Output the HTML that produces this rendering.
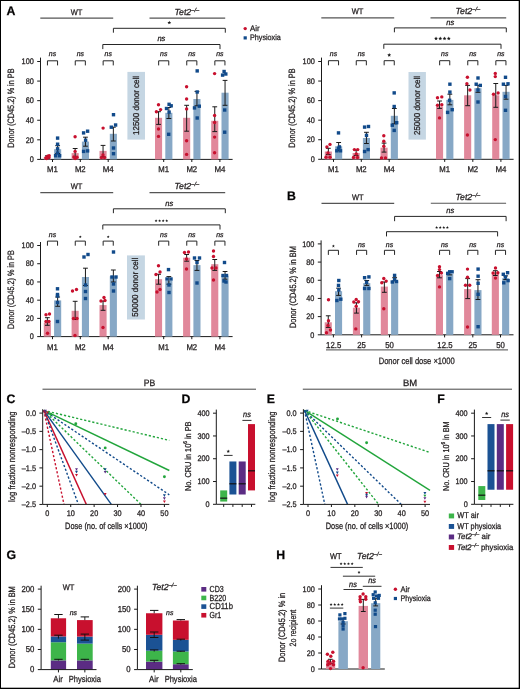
<!DOCTYPE html>
<html><head><meta charset="utf-8"><style>
html,body{margin:0;padding:0;background:#fff;}
body{width:520px;height:689px;overflow:hidden;}
svg{display:block;will-change:transform;font-family:"Liberation Sans", sans-serif;}
text{stroke:#231f20;stroke-width:0.28px;text-rendering:geometricPrecision;}
</style></head><body>
<svg width="520" height="689" viewBox="0 0 520 689" font-family="Liberation Sans, sans-serif" fill="#231f20">
<rect x="0" y="0" width="520" height="689" fill="#fff"/>
<rect x="0" y="0" width="520" height="1" fill="#000"/>
<rect x="0" y="0" width="1" height="689" fill="#000"/>
<rect x="518.7" y="0" width="1.3" height="689" fill="#000"/>
<rect x="0" y="687.7" width="520" height="1.3" fill="#000"/>
<text x="6.6" y="14.8" font-size="12.31" font-weight="bold" fill="#000">A</text>
<text x="287" y="200" font-size="12.31" font-weight="bold" fill="#000">B</text>
<text x="6.4" y="402.7" font-size="12.31" font-weight="bold" fill="#000">C</text>
<text x="181.6" y="403.3" font-size="12.31" font-weight="bold" fill="#000">D</text>
<text x="266.8" y="403.3" font-size="12.31" font-weight="bold" fill="#000">E</text>
<text x="437.2" y="403.2" font-size="12.31" font-weight="bold" fill="#000">F</text>
<text x="6.5" y="559" font-size="12.31" font-weight="bold" fill="#000">G</text>
<text x="276.2" y="558.9" font-size="12.31" font-weight="bold" fill="#000">H</text>
<text x="76.5" y="15" font-size="8.13" text-anchor="middle" textLength="11.6" lengthAdjust="spacingAndGlyphs">WT</text>
<line x1="40.3" y1="18.1" x2="113.2" y2="18.1" stroke="#555" stroke-width="1.1"/>
<text x="174.5" y="15" font-size="8.77" font-style="italic">Tet2<tspan font-size="5.79" dy="-3.16">&#8211;/&#8211;</tspan></text>
<line x1="149.5" y1="18.1" x2="225.2" y2="18.1" stroke="#555" stroke-width="1.1"/>
<path d="M113.4 32.7V28.3H225.3V32.7" stroke="#262626" stroke-width="1" fill="none"/>
<polygon points="169.3,20.7 169.83,21.97 171.2,22.08 170.16,22.98 170.48,24.32 169.3,23.6 168.12,24.32 168.44,22.98 167.4,22.08 168.77,21.97" fill="#1a1a1a"/>
<path d="M102.8 49.1V44.5H220V49.1" stroke="#262626" stroke-width="1" fill="none"/>
<text x="161.4" y="40.7" font-size="7.81" text-anchor="middle" font-style="italic" textLength="8" lengthAdjust="spacingAndGlyphs">ns</text>
<line x1="40.5" y1="57.6" x2="40.5" y2="159.4" stroke="#1a1a1a" stroke-width="1"/>
<line x1="37.2" y1="159.4" x2="40.5" y2="159.4" stroke="#1a1a1a" stroke-width="1"/>
<text x="33.8" y="162.15" font-size="8.13" text-anchor="end" textLength="4.07" lengthAdjust="spacingAndGlyphs">0</text>
<line x1="37.2" y1="139.82" x2="40.5" y2="139.82" stroke="#1a1a1a" stroke-width="1"/>
<text x="33.8" y="142.57" font-size="8.13" text-anchor="end" textLength="8.14" lengthAdjust="spacingAndGlyphs">20</text>
<line x1="37.2" y1="120.24" x2="40.5" y2="120.24" stroke="#1a1a1a" stroke-width="1"/>
<text x="33.8" y="122.99" font-size="8.13" text-anchor="end" textLength="8.14" lengthAdjust="spacingAndGlyphs">40</text>
<line x1="37.2" y1="100.66" x2="40.5" y2="100.66" stroke="#1a1a1a" stroke-width="1"/>
<text x="33.8" y="103.41" font-size="8.13" text-anchor="end" textLength="8.14" lengthAdjust="spacingAndGlyphs">60</text>
<line x1="37.2" y1="81.08" x2="40.5" y2="81.08" stroke="#1a1a1a" stroke-width="1"/>
<text x="33.8" y="83.83" font-size="8.13" text-anchor="end" textLength="8.14" lengthAdjust="spacingAndGlyphs">80</text>
<line x1="37.2" y1="61.5" x2="40.5" y2="61.5" stroke="#1a1a1a" stroke-width="1"/>
<text x="33.8" y="64.25" font-size="8.13" text-anchor="end" textLength="12.21" lengthAdjust="spacingAndGlyphs">100</text>
<line x1="40.5" y1="159.4" x2="232.6" y2="159.4" stroke="#1a1a1a" stroke-width="1"/>
<line x1="52.5" y1="159.4" x2="52.5" y2="162" stroke="#1a1a1a" stroke-width="1"/>
<line x1="80.3" y1="159.4" x2="80.3" y2="162" stroke="#1a1a1a" stroke-width="1"/>
<line x1="108.2" y1="159.4" x2="108.2" y2="162" stroke="#1a1a1a" stroke-width="1"/>
<line x1="163.7" y1="159.4" x2="163.7" y2="162" stroke="#1a1a1a" stroke-width="1"/>
<line x1="191.8" y1="159.4" x2="191.8" y2="162" stroke="#1a1a1a" stroke-width="1"/>
<line x1="219.9" y1="159.4" x2="219.9" y2="162" stroke="#1a1a1a" stroke-width="1"/>
<text x="52.5" y="172.2" font-size="8.35" text-anchor="middle" textLength="10.8" lengthAdjust="spacingAndGlyphs">M1</text>
<text x="80.3" y="172.2" font-size="8.35" text-anchor="middle" textLength="10.8" lengthAdjust="spacingAndGlyphs">M2</text>
<text x="108.2" y="172.2" font-size="8.35" text-anchor="middle" textLength="11" lengthAdjust="spacingAndGlyphs">M4</text>
<text x="163.7" y="172.2" font-size="8.35" text-anchor="middle" textLength="10.8" lengthAdjust="spacingAndGlyphs">M1</text>
<text x="191.8" y="172.2" font-size="8.35" text-anchor="middle" textLength="10.8" lengthAdjust="spacingAndGlyphs">M2</text>
<text x="219.9" y="172.2" font-size="8.35" text-anchor="middle" textLength="11" lengthAdjust="spacingAndGlyphs">M4</text>
<path d="M47.45 65.4V60.8H57.55V65.4" stroke="#262626" stroke-width="1" fill="none"/>
<text x="52.5" y="56.3" font-size="7.06" text-anchor="middle" font-style="italic" textLength="7.3" lengthAdjust="spacingAndGlyphs">ns</text>
<path d="M75.25 65.4V60.8H85.35V65.4" stroke="#262626" stroke-width="1" fill="none"/>
<text x="80.3" y="56.3" font-size="7.06" text-anchor="middle" font-style="italic" textLength="7.3" lengthAdjust="spacingAndGlyphs">ns</text>
<path d="M103.15 65.4V60.8H113.25V65.4" stroke="#262626" stroke-width="1" fill="none"/>
<text x="108.2" y="56.3" font-size="7.06" text-anchor="middle" font-style="italic" textLength="7.3" lengthAdjust="spacingAndGlyphs">ns</text>
<path d="M158.65 65.4V60.8H168.75V65.4" stroke="#262626" stroke-width="1" fill="none"/>
<text x="163.7" y="56.3" font-size="7.06" text-anchor="middle" font-style="italic" textLength="7.3" lengthAdjust="spacingAndGlyphs">ns</text>
<path d="M186.75 65.4V60.8H196.85V65.4" stroke="#262626" stroke-width="1" fill="none"/>
<text x="191.8" y="56.3" font-size="7.06" text-anchor="middle" font-style="italic" textLength="7.3" lengthAdjust="spacingAndGlyphs">ns</text>
<path d="M214.85 65.4V60.8H224.95V65.4" stroke="#262626" stroke-width="1" fill="none"/>
<text x="219.9" y="56.3" font-size="7.06" text-anchor="middle" font-style="italic" textLength="7.3" lengthAdjust="spacingAndGlyphs">ns</text>
<rect x="127.4" y="71.9" width="17.6" height="67.7" fill="#c5d6e3"/>
<text x="138.6" y="105.45" font-size="8.56" text-anchor="middle" textLength="59" lengthAdjust="spacingAndGlyphs" transform="rotate(-90 138.6 105.45)">12500 donor cell</text>
<text x="14.5" y="108.1" font-size="9.2" text-anchor="middle" textLength="79.2" lengthAdjust="spacingAndGlyphs" transform="rotate(-90 14.5 108.1)">Donor (CD45.2) % in PB</text>
<rect x="43.8" y="157" width="7.1" height="2.4" fill="#e1889b"/>
<rect x="54.1" y="149.2" width="7.1" height="10.2" fill="#87a8c6"/>
<rect x="71.6" y="153.1" width="7.1" height="6.3" fill="#e1889b"/>
<rect x="81.9" y="141.6" width="7.1" height="17.8" fill="#87a8c6"/>
<rect x="99.5" y="150.9" width="7.1" height="8.5" fill="#e1889b"/>
<rect x="109.8" y="133.8" width="7.1" height="25.6" fill="#87a8c6"/>
<rect x="155" y="117.8" width="7.1" height="41.6" fill="#e1889b"/>
<rect x="165.3" y="112.8" width="7.1" height="46.6" fill="#87a8c6"/>
<rect x="183.1" y="117.8" width="7.1" height="41.6" fill="#e1889b"/>
<rect x="193.4" y="99" width="7.1" height="60.4" fill="#87a8c6"/>
<rect x="211.2" y="120.8" width="7.1" height="38.6" fill="#e1889b"/>
<rect x="221.5" y="92.7" width="7.1" height="66.7" fill="#87a8c6"/>
<line x1="47.35" y1="155.8" x2="47.35" y2="158.6" stroke="#1a1a1a" stroke-width="1"/>
<line x1="44.95" y1="155.8" x2="49.75" y2="155.8" stroke="#1a1a1a" stroke-width="1"/>
<line x1="44.95" y1="158.6" x2="49.75" y2="158.6" stroke="#1a1a1a" stroke-width="1"/>
<line x1="57.65" y1="145.7" x2="57.65" y2="153.5" stroke="#1a1a1a" stroke-width="1"/>
<line x1="55.25" y1="145.7" x2="60.05" y2="145.7" stroke="#1a1a1a" stroke-width="1"/>
<line x1="55.25" y1="153.5" x2="60.05" y2="153.5" stroke="#1a1a1a" stroke-width="1"/>
<circle cx="46" cy="157.8" r="1.7" fill="#c8102e"/>
<circle cx="47.6" cy="156.3" r="1.7" fill="#c8102e"/>
<circle cx="49.2" cy="155.7" r="1.7" fill="#c8102e"/>
<circle cx="46.6" cy="158.5" r="1.7" fill="#c8102e"/>
<circle cx="48.6" cy="157.2" r="1.7" fill="#c8102e"/>
<rect x="55.9" y="136.4" width="3.4" height="3.4" fill="#114a8a"/>
<rect x="55.9" y="142.5" width="3.4" height="3.4" fill="#114a8a"/>
<rect x="55.9" y="147.1" width="3.4" height="3.4" fill="#114a8a"/>
<rect x="53.9" y="154" width="3.4" height="3.4" fill="#114a8a"/>
<rect x="57.9" y="154" width="3.4" height="3.4" fill="#114a8a"/>
<rect x="55.9" y="151.3" width="3.4" height="3.4" fill="#114a8a"/>
<line x1="75.15" y1="148.5" x2="75.15" y2="157.2" stroke="#1a1a1a" stroke-width="1"/>
<line x1="72.75" y1="148.5" x2="77.55" y2="148.5" stroke="#1a1a1a" stroke-width="1"/>
<line x1="72.75" y1="157.2" x2="77.55" y2="157.2" stroke="#1a1a1a" stroke-width="1"/>
<line x1="85.45" y1="137.2" x2="85.45" y2="146.2" stroke="#1a1a1a" stroke-width="1"/>
<line x1="83.05" y1="137.2" x2="87.85" y2="137.2" stroke="#1a1a1a" stroke-width="1"/>
<line x1="83.05" y1="146.2" x2="87.85" y2="146.2" stroke="#1a1a1a" stroke-width="1"/>
<circle cx="75.1" cy="136.7" r="1.7" fill="#c8102e"/>
<circle cx="75.1" cy="151.4" r="1.7" fill="#c8102e"/>
<circle cx="74" cy="157" r="1.7" fill="#c8102e"/>
<circle cx="77" cy="157.2" r="1.7" fill="#c8102e"/>
<circle cx="75.2" cy="158.6" r="1.7" fill="#c8102e"/>
<rect x="81.9" y="131.2" width="3.4" height="3.4" fill="#114a8a"/>
<rect x="85.9" y="129.5" width="3.4" height="3.4" fill="#114a8a"/>
<rect x="83.9" y="138.5" width="3.4" height="3.4" fill="#114a8a"/>
<rect x="81.9" y="149.7" width="3.4" height="3.4" fill="#114a8a"/>
<rect x="85.9" y="149.2" width="3.4" height="3.4" fill="#114a8a"/>
<line x1="103.05" y1="145.4" x2="103.05" y2="156.6" stroke="#1a1a1a" stroke-width="1"/>
<line x1="100.65" y1="145.4" x2="105.45" y2="145.4" stroke="#1a1a1a" stroke-width="1"/>
<line x1="100.65" y1="156.6" x2="105.45" y2="156.6" stroke="#1a1a1a" stroke-width="1"/>
<line x1="113.35" y1="127.2" x2="113.35" y2="141" stroke="#1a1a1a" stroke-width="1"/>
<line x1="110.95" y1="127.2" x2="115.75" y2="127.2" stroke="#1a1a1a" stroke-width="1"/>
<line x1="110.95" y1="141" x2="115.75" y2="141" stroke="#1a1a1a" stroke-width="1"/>
<circle cx="103.1" cy="128.1" r="1.7" fill="#c8102e"/>
<circle cx="103" cy="155" r="1.7" fill="#c8102e"/>
<circle cx="101.5" cy="157.6" r="1.7" fill="#c8102e"/>
<circle cx="104.5" cy="157.6" r="1.7" fill="#c8102e"/>
<rect x="111.8" y="113" width="3.4" height="3.4" fill="#114a8a"/>
<rect x="109.6" y="125.5" width="3.4" height="3.4" fill="#114a8a"/>
<rect x="113.9" y="123.3" width="3.4" height="3.4" fill="#114a8a"/>
<rect x="111.8" y="146.3" width="3.4" height="3.4" fill="#114a8a"/>
<rect x="111.8" y="152" width="3.4" height="3.4" fill="#114a8a"/>
<line x1="158.55" y1="111.7" x2="158.55" y2="124.4" stroke="#1a1a1a" stroke-width="1"/>
<line x1="156.15" y1="111.7" x2="160.95" y2="111.7" stroke="#1a1a1a" stroke-width="1"/>
<line x1="156.15" y1="124.4" x2="160.95" y2="124.4" stroke="#1a1a1a" stroke-width="1"/>
<line x1="168.85" y1="107.5" x2="168.85" y2="118.5" stroke="#1a1a1a" stroke-width="1"/>
<line x1="166.45" y1="107.5" x2="171.25" y2="107.5" stroke="#1a1a1a" stroke-width="1"/>
<line x1="166.45" y1="118.5" x2="171.25" y2="118.5" stroke="#1a1a1a" stroke-width="1"/>
<circle cx="158.5" cy="104.7" r="1.7" fill="#c8102e"/>
<circle cx="156.4" cy="111.7" r="1.7" fill="#c8102e"/>
<circle cx="160.6" cy="109.6" r="1.7" fill="#c8102e"/>
<circle cx="158.5" cy="129" r="1.7" fill="#c8102e"/>
<circle cx="158.5" cy="136.4" r="1.7" fill="#c8102e"/>
<rect x="164.8" y="106.8" width="3.4" height="3.4" fill="#114a8a"/>
<rect x="167.4" y="102.6" width="3.4" height="3.4" fill="#114a8a"/>
<rect x="169.5" y="104.1" width="3.4" height="3.4" fill="#114a8a"/>
<rect x="167.4" y="110.4" width="3.4" height="3.4" fill="#114a8a"/>
<rect x="167" y="132.6" width="3.4" height="3.4" fill="#114a8a"/>
<line x1="186.65" y1="105.3" x2="186.65" y2="131.2" stroke="#1a1a1a" stroke-width="1"/>
<line x1="184.25" y1="105.3" x2="189.05" y2="105.3" stroke="#1a1a1a" stroke-width="1"/>
<line x1="184.25" y1="131.2" x2="189.05" y2="131.2" stroke="#1a1a1a" stroke-width="1"/>
<line x1="196.95" y1="91.4" x2="196.95" y2="105.8" stroke="#1a1a1a" stroke-width="1"/>
<line x1="194.55" y1="91.4" x2="199.35" y2="91.4" stroke="#1a1a1a" stroke-width="1"/>
<line x1="194.55" y1="105.8" x2="199.35" y2="105.8" stroke="#1a1a1a" stroke-width="1"/>
<circle cx="186.6" cy="86.7" r="1.7" fill="#c8102e"/>
<circle cx="186.6" cy="99" r="1.7" fill="#c8102e"/>
<circle cx="186.6" cy="108.9" r="1.7" fill="#c8102e"/>
<circle cx="186.6" cy="140.7" r="1.7" fill="#c8102e"/>
<circle cx="186.6" cy="154.4" r="1.7" fill="#c8102e"/>
<rect x="195.5" y="69.2" width="3.4" height="3.4" fill="#114a8a"/>
<rect x="195.5" y="90.3" width="3.4" height="3.4" fill="#114a8a"/>
<rect x="192.8" y="106.2" width="3.4" height="3.4" fill="#114a8a"/>
<rect x="197.6" y="104.5" width="3.4" height="3.4" fill="#114a8a"/>
<rect x="195.5" y="116.3" width="3.4" height="3.4" fill="#114a8a"/>
<line x1="214.75" y1="106.8" x2="214.75" y2="131.6" stroke="#1a1a1a" stroke-width="1"/>
<line x1="212.35" y1="106.8" x2="217.15" y2="106.8" stroke="#1a1a1a" stroke-width="1"/>
<line x1="212.35" y1="131.6" x2="217.15" y2="131.6" stroke="#1a1a1a" stroke-width="1"/>
<line x1="225.05" y1="80.4" x2="225.05" y2="105.3" stroke="#1a1a1a" stroke-width="1"/>
<line x1="222.65" y1="80.4" x2="227.45" y2="80.4" stroke="#1a1a1a" stroke-width="1"/>
<line x1="222.65" y1="105.3" x2="227.45" y2="105.3" stroke="#1a1a1a" stroke-width="1"/>
<circle cx="214.6" cy="73.6" r="1.7" fill="#c8102e"/>
<circle cx="214.6" cy="115.5" r="1.7" fill="#c8102e"/>
<circle cx="214.6" cy="122.5" r="1.7" fill="#c8102e"/>
<circle cx="214.6" cy="137.1" r="1.7" fill="#c8102e"/>
<circle cx="214.6" cy="152.7" r="1.7" fill="#c8102e"/>
<rect x="220.9" y="73.4" width="3.4" height="3.4" fill="#114a8a"/>
<rect x="222.4" y="69.8" width="3.4" height="3.4" fill="#114a8a"/>
<rect x="224.1" y="72.3" width="3.4" height="3.4" fill="#114a8a"/>
<rect x="223" y="108.3" width="3.4" height="3.4" fill="#114a8a"/>
<rect x="223" y="130.5" width="3.4" height="3.4" fill="#114a8a"/>
<text x="357.5" y="14.4" font-size="8.13" text-anchor="middle" textLength="11.6" lengthAdjust="spacingAndGlyphs">WT</text>
<line x1="321.3" y1="17.9" x2="394.2" y2="17.9" stroke="#555" stroke-width="1.1"/>
<text x="455.5" y="14.4" font-size="8.77" font-style="italic">Tet2<tspan font-size="5.79" dy="-3.16">&#8211;/&#8211;</tspan></text>
<line x1="430.5" y1="17.9" x2="506.2" y2="17.9" stroke="#555" stroke-width="1.1"/>
<path d="M394.4 32.3V27.9H506.3V32.3" stroke="#262626" stroke-width="1" fill="none"/>
<text x="450.3" y="24.9" font-size="7.81" text-anchor="middle" font-style="italic" textLength="8" lengthAdjust="spacingAndGlyphs">ns</text>
<path d="M383.8 48.8V44.2H501V48.8" stroke="#262626" stroke-width="1" fill="none"/>
<polygon points="436.02,36.6 436.55,37.87 437.93,37.98 436.88,38.88 437.2,40.22 436.02,39.5 434.85,40.22 435.17,38.88 434.12,37.98 435.5,37.87" fill="#1a1a1a"/>
<polygon points="440.27,36.6 440.8,37.87 442.18,37.98 441.13,38.88 441.45,40.22 440.27,39.5 439.1,40.22 439.42,38.88 438.37,37.98 439.75,37.87" fill="#1a1a1a"/>
<polygon points="444.52,36.6 445.05,37.87 446.43,37.98 445.38,38.88 445.7,40.22 444.52,39.5 443.35,40.22 443.67,38.88 442.62,37.98 444,37.87" fill="#1a1a1a"/>
<polygon points="448.77,36.6 449.3,37.87 450.68,37.98 449.63,38.88 449.95,40.22 448.77,39.5 447.6,40.22 447.92,38.88 446.87,37.98 448.25,37.87" fill="#1a1a1a"/>
<line x1="321.5" y1="57.6" x2="321.5" y2="159.3" stroke="#1a1a1a" stroke-width="1"/>
<line x1="318.2" y1="159.3" x2="321.5" y2="159.3" stroke="#1a1a1a" stroke-width="1"/>
<text x="314.8" y="162.05" font-size="8.13" text-anchor="end" textLength="4.07" lengthAdjust="spacingAndGlyphs">0</text>
<line x1="318.2" y1="139.74" x2="321.5" y2="139.74" stroke="#1a1a1a" stroke-width="1"/>
<text x="314.8" y="142.49" font-size="8.13" text-anchor="end" textLength="8.14" lengthAdjust="spacingAndGlyphs">20</text>
<line x1="318.2" y1="120.18" x2="321.5" y2="120.18" stroke="#1a1a1a" stroke-width="1"/>
<text x="314.8" y="122.93" font-size="8.13" text-anchor="end" textLength="8.14" lengthAdjust="spacingAndGlyphs">40</text>
<line x1="318.2" y1="100.62" x2="321.5" y2="100.62" stroke="#1a1a1a" stroke-width="1"/>
<text x="314.8" y="103.37" font-size="8.13" text-anchor="end" textLength="8.14" lengthAdjust="spacingAndGlyphs">60</text>
<line x1="318.2" y1="81.06" x2="321.5" y2="81.06" stroke="#1a1a1a" stroke-width="1"/>
<text x="314.8" y="83.81" font-size="8.13" text-anchor="end" textLength="8.14" lengthAdjust="spacingAndGlyphs">80</text>
<line x1="318.2" y1="61.5" x2="321.5" y2="61.5" stroke="#1a1a1a" stroke-width="1"/>
<text x="314.8" y="64.25" font-size="8.13" text-anchor="end" textLength="12.21" lengthAdjust="spacingAndGlyphs">100</text>
<line x1="321.5" y1="159.3" x2="513.6" y2="159.3" stroke="#1a1a1a" stroke-width="1"/>
<line x1="333.5" y1="159.3" x2="333.5" y2="161.9" stroke="#1a1a1a" stroke-width="1"/>
<line x1="361.3" y1="159.3" x2="361.3" y2="161.9" stroke="#1a1a1a" stroke-width="1"/>
<line x1="389.2" y1="159.3" x2="389.2" y2="161.9" stroke="#1a1a1a" stroke-width="1"/>
<line x1="444.7" y1="159.3" x2="444.7" y2="161.9" stroke="#1a1a1a" stroke-width="1"/>
<line x1="472.8" y1="159.3" x2="472.8" y2="161.9" stroke="#1a1a1a" stroke-width="1"/>
<line x1="500.9" y1="159.3" x2="500.9" y2="161.9" stroke="#1a1a1a" stroke-width="1"/>
<text x="333.5" y="172" font-size="8.35" text-anchor="middle" textLength="10.8" lengthAdjust="spacingAndGlyphs">M1</text>
<text x="361.3" y="172" font-size="8.35" text-anchor="middle" textLength="10.8" lengthAdjust="spacingAndGlyphs">M2</text>
<text x="389.2" y="172" font-size="8.35" text-anchor="middle" textLength="11" lengthAdjust="spacingAndGlyphs">M4</text>
<text x="444.7" y="172" font-size="8.35" text-anchor="middle" textLength="10.8" lengthAdjust="spacingAndGlyphs">M1</text>
<text x="472.8" y="172" font-size="8.35" text-anchor="middle" textLength="10.8" lengthAdjust="spacingAndGlyphs">M2</text>
<text x="500.9" y="172" font-size="8.35" text-anchor="middle" textLength="11" lengthAdjust="spacingAndGlyphs">M4</text>
<path d="M328.45 65.3V60.7H338.55V65.3" stroke="#262626" stroke-width="1" fill="none"/>
<text x="333.5" y="56.2" font-size="7.06" text-anchor="middle" font-style="italic" textLength="7.3" lengthAdjust="spacingAndGlyphs">ns</text>
<path d="M356.25 65.3V60.7H366.35V65.3" stroke="#262626" stroke-width="1" fill="none"/>
<text x="361.3" y="56.2" font-size="7.06" text-anchor="middle" font-style="italic" textLength="7.3" lengthAdjust="spacingAndGlyphs">ns</text>
<path d="M384.15 65.3V60.7H394.25V65.3" stroke="#262626" stroke-width="1" fill="none"/>
<polygon points="389.2,53.1 389.73,54.37 391.1,54.48 390.06,55.38 390.38,56.72 389.2,56 388.02,56.72 388.34,55.38 387.3,54.48 388.67,54.37" fill="#1a1a1a"/>
<path d="M439.65 65.3V60.7H449.75V65.3" stroke="#262626" stroke-width="1" fill="none"/>
<text x="444.7" y="56.2" font-size="7.06" text-anchor="middle" font-style="italic" textLength="7.3" lengthAdjust="spacingAndGlyphs">ns</text>
<path d="M467.75 65.3V60.7H477.85V65.3" stroke="#262626" stroke-width="1" fill="none"/>
<text x="472.8" y="56.2" font-size="7.06" text-anchor="middle" font-style="italic" textLength="7.3" lengthAdjust="spacingAndGlyphs">ns</text>
<path d="M495.85 65.3V60.7H505.95V65.3" stroke="#262626" stroke-width="1" fill="none"/>
<text x="500.9" y="56.2" font-size="7.06" text-anchor="middle" font-style="italic" textLength="7.3" lengthAdjust="spacingAndGlyphs">ns</text>
<rect x="408.5" y="72" width="17.4" height="67.6" fill="#c5d6e3"/>
<text x="419.6" y="105.5" font-size="8.56" text-anchor="middle" textLength="59" lengthAdjust="spacingAndGlyphs" transform="rotate(-90 419.6 105.5)">25000 donor cell</text>
<text x="295.5" y="108.1" font-size="9.2" text-anchor="middle" textLength="79.2" lengthAdjust="spacingAndGlyphs" transform="rotate(-90 295.5 108.1)">Donor (CD45.2) % in PB</text>
<rect x="324.8" y="151.5" width="7.1" height="7.8" fill="#e1889b"/>
<rect x="335.1" y="146.3" width="7.1" height="13" fill="#87a8c6"/>
<rect x="352.6" y="153" width="7.1" height="6.3" fill="#e1889b"/>
<rect x="362.9" y="138" width="7.1" height="21.3" fill="#87a8c6"/>
<rect x="380.5" y="147.7" width="7.1" height="11.6" fill="#e1889b"/>
<rect x="390.8" y="115.8" width="7.1" height="43.5" fill="#87a8c6"/>
<rect x="436" y="106.6" width="7.1" height="52.7" fill="#e1889b"/>
<rect x="446.3" y="99.9" width="7.1" height="59.4" fill="#87a8c6"/>
<rect x="464.1" y="95.3" width="7.1" height="64" fill="#e1889b"/>
<rect x="474.4" y="88.2" width="7.1" height="71.1" fill="#87a8c6"/>
<rect x="492.2" y="95.3" width="7.1" height="64" fill="#e1889b"/>
<rect x="502.5" y="91.8" width="7.1" height="67.5" fill="#87a8c6"/>
<line x1="328.35" y1="148.3" x2="328.35" y2="154.6" stroke="#1a1a1a" stroke-width="1"/>
<line x1="325.95" y1="148.3" x2="330.75" y2="148.3" stroke="#1a1a1a" stroke-width="1"/>
<line x1="325.95" y1="154.6" x2="330.75" y2="154.6" stroke="#1a1a1a" stroke-width="1"/>
<line x1="338.65" y1="142.5" x2="338.65" y2="150.8" stroke="#1a1a1a" stroke-width="1"/>
<line x1="336.25" y1="142.5" x2="341.05" y2="142.5" stroke="#1a1a1a" stroke-width="1"/>
<line x1="336.25" y1="150.8" x2="341.05" y2="150.8" stroke="#1a1a1a" stroke-width="1"/>
<circle cx="326.9" cy="146.9" r="1.7" fill="#c8102e"/>
<circle cx="330" cy="144.4" r="1.7" fill="#c8102e"/>
<circle cx="328" cy="153" r="1.7" fill="#c8102e"/>
<circle cx="326" cy="157.3" r="1.7" fill="#c8102e"/>
<circle cx="330" cy="157.3" r="1.7" fill="#c8102e"/>
<rect x="336.8" y="131.2" width="3.4" height="3.4" fill="#114a8a"/>
<rect x="337.7" y="145.2" width="3.4" height="3.4" fill="#114a8a"/>
<rect x="335.1" y="149.1" width="3.4" height="3.4" fill="#114a8a"/>
<rect x="338.8" y="149.1" width="3.4" height="3.4" fill="#114a8a"/>
<rect x="336.8" y="146.6" width="3.4" height="3.4" fill="#114a8a"/>
<line x1="356.15" y1="150.2" x2="356.15" y2="155.4" stroke="#1a1a1a" stroke-width="1"/>
<line x1="353.75" y1="150.2" x2="358.55" y2="150.2" stroke="#1a1a1a" stroke-width="1"/>
<line x1="353.75" y1="155.4" x2="358.55" y2="155.4" stroke="#1a1a1a" stroke-width="1"/>
<line x1="366.45" y1="132.3" x2="366.45" y2="143.5" stroke="#1a1a1a" stroke-width="1"/>
<line x1="364.05" y1="132.3" x2="368.85" y2="132.3" stroke="#1a1a1a" stroke-width="1"/>
<line x1="364.05" y1="143.5" x2="368.85" y2="143.5" stroke="#1a1a1a" stroke-width="1"/>
<circle cx="354.4" cy="149.6" r="1.7" fill="#c8102e"/>
<circle cx="357.7" cy="149.6" r="1.7" fill="#c8102e"/>
<circle cx="356.3" cy="154" r="1.7" fill="#c8102e"/>
<circle cx="353.5" cy="157.5" r="1.7" fill="#c8102e"/>
<circle cx="357.5" cy="157.5" r="1.7" fill="#c8102e"/>
<rect x="362.9" y="125.4" width="3.4" height="3.4" fill="#114a8a"/>
<rect x="366.8" y="124.8" width="3.4" height="3.4" fill="#114a8a"/>
<rect x="364.8" y="133.7" width="3.4" height="3.4" fill="#114a8a"/>
<rect x="362.9" y="149.8" width="3.4" height="3.4" fill="#114a8a"/>
<rect x="366.4" y="147.9" width="3.4" height="3.4" fill="#114a8a"/>
<line x1="384.05" y1="143.1" x2="384.05" y2="152.1" stroke="#1a1a1a" stroke-width="1"/>
<line x1="381.65" y1="143.1" x2="386.45" y2="143.1" stroke="#1a1a1a" stroke-width="1"/>
<line x1="381.65" y1="152.1" x2="386.45" y2="152.1" stroke="#1a1a1a" stroke-width="1"/>
<line x1="394.35" y1="108.5" x2="394.35" y2="123.8" stroke="#1a1a1a" stroke-width="1"/>
<line x1="391.95" y1="108.5" x2="396.75" y2="108.5" stroke="#1a1a1a" stroke-width="1"/>
<line x1="391.95" y1="123.8" x2="396.75" y2="123.8" stroke="#1a1a1a" stroke-width="1"/>
<circle cx="383.8" cy="135.8" r="1.7" fill="#c8102e"/>
<circle cx="383.8" cy="141.2" r="1.7" fill="#c8102e"/>
<circle cx="383.8" cy="146.3" r="1.7" fill="#c8102e"/>
<circle cx="381.5" cy="157.9" r="1.7" fill="#c8102e"/>
<circle cx="385.5" cy="157.9" r="1.7" fill="#c8102e"/>
<rect x="392.5" y="91.2" width="3.4" height="3.4" fill="#114a8a"/>
<rect x="392.5" y="104.8" width="3.4" height="3.4" fill="#114a8a"/>
<rect x="390.6" y="123.5" width="3.4" height="3.4" fill="#114a8a"/>
<rect x="395" y="121" width="3.4" height="3.4" fill="#114a8a"/>
<rect x="392.5" y="128.7" width="3.4" height="3.4" fill="#114a8a"/>
<line x1="439.55" y1="101" x2="439.55" y2="108.4" stroke="#1a1a1a" stroke-width="1"/>
<line x1="437.15" y1="101" x2="441.95" y2="101" stroke="#1a1a1a" stroke-width="1"/>
<line x1="437.15" y1="108.4" x2="441.95" y2="108.4" stroke="#1a1a1a" stroke-width="1"/>
<line x1="449.85" y1="94.2" x2="449.85" y2="104.8" stroke="#1a1a1a" stroke-width="1"/>
<line x1="447.45" y1="94.2" x2="452.25" y2="94.2" stroke="#1a1a1a" stroke-width="1"/>
<line x1="447.45" y1="104.8" x2="452.25" y2="104.8" stroke="#1a1a1a" stroke-width="1"/>
<circle cx="437.5" cy="97.8" r="1.7" fill="#c8102e"/>
<circle cx="441.8" cy="96.9" r="1.7" fill="#c8102e"/>
<circle cx="437.5" cy="105.2" r="1.7" fill="#c8102e"/>
<circle cx="441.8" cy="104.8" r="1.7" fill="#c8102e"/>
<circle cx="439.5" cy="117.9" r="1.7" fill="#c8102e"/>
<rect x="448.2" y="82.5" width="3.4" height="3.4" fill="#114a8a"/>
<rect x="448.2" y="90.4" width="3.4" height="3.4" fill="#114a8a"/>
<rect x="447.9" y="98.6" width="3.4" height="3.4" fill="#114a8a"/>
<rect x="445.9" y="110.7" width="3.4" height="3.4" fill="#114a8a"/>
<rect x="450.5" y="108" width="3.4" height="3.4" fill="#114a8a"/>
<line x1="467.65" y1="85.4" x2="467.65" y2="105.7" stroke="#1a1a1a" stroke-width="1"/>
<line x1="465.25" y1="85.4" x2="470.05" y2="85.4" stroke="#1a1a1a" stroke-width="1"/>
<line x1="465.25" y1="105.7" x2="470.05" y2="105.7" stroke="#1a1a1a" stroke-width="1"/>
<line x1="477.95" y1="85.4" x2="477.95" y2="92.3" stroke="#1a1a1a" stroke-width="1"/>
<line x1="475.55" y1="85.4" x2="480.35" y2="85.4" stroke="#1a1a1a" stroke-width="1"/>
<line x1="475.55" y1="92.3" x2="480.35" y2="92.3" stroke="#1a1a1a" stroke-width="1"/>
<circle cx="467.4" cy="77.3" r="1.7" fill="#c8102e"/>
<circle cx="466.9" cy="83.8" r="1.7" fill="#c8102e"/>
<circle cx="469.9" cy="90" r="1.7" fill="#c8102e"/>
<circle cx="467.4" cy="135" r="1.7" fill="#c8102e"/>
<rect x="476.3" y="76.3" width="3.4" height="3.4" fill="#114a8a"/>
<rect x="474.5" y="82.5" width="3.4" height="3.4" fill="#114a8a"/>
<rect x="478.6" y="83.7" width="3.4" height="3.4" fill="#114a8a"/>
<rect x="476.3" y="88.3" width="3.4" height="3.4" fill="#114a8a"/>
<rect x="476.3" y="100.3" width="3.4" height="3.4" fill="#114a8a"/>
<line x1="495.75" y1="83.5" x2="495.75" y2="107.3" stroke="#1a1a1a" stroke-width="1"/>
<line x1="493.35" y1="83.5" x2="498.15" y2="83.5" stroke="#1a1a1a" stroke-width="1"/>
<line x1="493.35" y1="107.3" x2="498.15" y2="107.3" stroke="#1a1a1a" stroke-width="1"/>
<line x1="506.05" y1="85.4" x2="506.05" y2="99.2" stroke="#1a1a1a" stroke-width="1"/>
<line x1="503.65" y1="85.4" x2="508.45" y2="85.4" stroke="#1a1a1a" stroke-width="1"/>
<line x1="503.65" y1="99.2" x2="508.45" y2="99.2" stroke="#1a1a1a" stroke-width="1"/>
<circle cx="495.3" cy="73.4" r="1.7" fill="#c8102e"/>
<circle cx="495.3" cy="76.6" r="1.7" fill="#c8102e"/>
<circle cx="493.5" cy="94.2" r="1.7" fill="#c8102e"/>
<circle cx="498.1" cy="93" r="1.7" fill="#c8102e"/>
<circle cx="495.3" cy="139.6" r="1.7" fill="#c8102e"/>
<rect x="503.8" y="75.6" width="3.4" height="3.4" fill="#114a8a"/>
<rect x="501.7" y="82.5" width="3.4" height="3.4" fill="#114a8a"/>
<rect x="506.3" y="82.1" width="3.4" height="3.4" fill="#114a8a"/>
<rect x="503.8" y="94.8" width="3.4" height="3.4" fill="#114a8a"/>
<rect x="503.8" y="108.6" width="3.4" height="3.4" fill="#114a8a"/>
<text x="76.5" y="189" font-size="8.13" text-anchor="middle" textLength="11.6" lengthAdjust="spacingAndGlyphs">WT</text>
<line x1="40.3" y1="192.6" x2="113.2" y2="192.6" stroke="#555" stroke-width="1.1"/>
<text x="174.5" y="189" font-size="8.77" font-style="italic">Tet2<tspan font-size="5.79" dy="-3.16">&#8211;/&#8211;</tspan></text>
<line x1="149.5" y1="192.6" x2="225.2" y2="192.6" stroke="#555" stroke-width="1.1"/>
<path d="M113.4 213.2V208.8H225.3V213.2" stroke="#262626" stroke-width="1" fill="none"/>
<text x="169.3" y="205.8" font-size="7.81" text-anchor="middle" font-style="italic" textLength="8" lengthAdjust="spacingAndGlyphs">ns</text>
<path d="M102.8 229.5V224.9H220V229.5" stroke="#262626" stroke-width="1" fill="none"/>
<polygon points="156.08,219.2 156.47,220.15 157.5,220.24 156.72,220.91 156.96,221.91 156.08,221.38 155.19,221.91 155.43,220.91 154.65,220.24 155.68,220.15" fill="#1a1a1a"/>
<polygon points="159.63,219.2 160.02,220.15 161.05,220.24 160.27,220.91 160.51,221.91 159.63,221.38 158.74,221.91 158.98,220.91 158.2,220.24 159.23,220.15" fill="#1a1a1a"/>
<polygon points="163.18,219.2 163.57,220.15 164.6,220.24 163.82,220.91 164.06,221.91 163.18,221.38 162.29,221.91 162.53,220.91 161.75,220.24 162.78,220.15" fill="#1a1a1a"/>
<polygon points="166.73,219.2 167.12,220.15 168.15,220.24 167.37,220.91 167.61,221.91 166.73,221.38 165.84,221.91 166.08,220.91 165.3,220.24 166.33,220.15" fill="#1a1a1a"/>
<line x1="40.5" y1="242" x2="40.5" y2="336.6" stroke="#1a1a1a" stroke-width="1"/>
<line x1="37.2" y1="336.6" x2="40.5" y2="336.6" stroke="#1a1a1a" stroke-width="1"/>
<text x="33.8" y="339.35" font-size="8.13" text-anchor="end" textLength="4.07" lengthAdjust="spacingAndGlyphs">0</text>
<line x1="37.2" y1="318.38" x2="40.5" y2="318.38" stroke="#1a1a1a" stroke-width="1"/>
<text x="33.8" y="321.13" font-size="8.13" text-anchor="end" textLength="8.14" lengthAdjust="spacingAndGlyphs">20</text>
<line x1="37.2" y1="300.16" x2="40.5" y2="300.16" stroke="#1a1a1a" stroke-width="1"/>
<text x="33.8" y="302.91" font-size="8.13" text-anchor="end" textLength="8.14" lengthAdjust="spacingAndGlyphs">40</text>
<line x1="37.2" y1="281.94" x2="40.5" y2="281.94" stroke="#1a1a1a" stroke-width="1"/>
<text x="33.8" y="284.69" font-size="8.13" text-anchor="end" textLength="8.14" lengthAdjust="spacingAndGlyphs">60</text>
<line x1="37.2" y1="263.72" x2="40.5" y2="263.72" stroke="#1a1a1a" stroke-width="1"/>
<text x="33.8" y="266.47" font-size="8.13" text-anchor="end" textLength="8.14" lengthAdjust="spacingAndGlyphs">80</text>
<line x1="37.2" y1="245.5" x2="40.5" y2="245.5" stroke="#1a1a1a" stroke-width="1"/>
<text x="33.8" y="248.25" font-size="8.13" text-anchor="end" textLength="12.21" lengthAdjust="spacingAndGlyphs">100</text>
<line x1="40.5" y1="336.6" x2="232.6" y2="336.6" stroke="#1a1a1a" stroke-width="1"/>
<line x1="52.5" y1="336.6" x2="52.5" y2="339.2" stroke="#1a1a1a" stroke-width="1"/>
<line x1="80.3" y1="336.6" x2="80.3" y2="339.2" stroke="#1a1a1a" stroke-width="1"/>
<line x1="108.2" y1="336.6" x2="108.2" y2="339.2" stroke="#1a1a1a" stroke-width="1"/>
<line x1="163.7" y1="336.6" x2="163.7" y2="339.2" stroke="#1a1a1a" stroke-width="1"/>
<line x1="191.8" y1="336.6" x2="191.8" y2="339.2" stroke="#1a1a1a" stroke-width="1"/>
<line x1="219.9" y1="336.6" x2="219.9" y2="339.2" stroke="#1a1a1a" stroke-width="1"/>
<text x="52.5" y="349.6" font-size="8.35" text-anchor="middle" textLength="10.8" lengthAdjust="spacingAndGlyphs">M1</text>
<text x="80.3" y="349.6" font-size="8.35" text-anchor="middle" textLength="10.8" lengthAdjust="spacingAndGlyphs">M2</text>
<text x="108.2" y="349.6" font-size="8.35" text-anchor="middle" textLength="11" lengthAdjust="spacingAndGlyphs">M4</text>
<text x="163.7" y="349.6" font-size="8.35" text-anchor="middle" textLength="10.8" lengthAdjust="spacingAndGlyphs">M1</text>
<text x="191.8" y="349.6" font-size="8.35" text-anchor="middle" textLength="10.8" lengthAdjust="spacingAndGlyphs">M2</text>
<text x="219.9" y="349.6" font-size="8.35" text-anchor="middle" textLength="11" lengthAdjust="spacingAndGlyphs">M4</text>
<path d="M47.45 245.7V241.1H57.55V245.7" stroke="#262626" stroke-width="1" fill="none"/>
<text x="52.5" y="236.6" font-size="7.06" text-anchor="middle" font-style="italic" textLength="7.3" lengthAdjust="spacingAndGlyphs">ns</text>
<path d="M75.25 245.7V241.1H85.35V245.7" stroke="#262626" stroke-width="1" fill="none"/>
<polygon points="80.3,235.4 80.7,236.35 81.73,236.44 80.94,237.11 81.18,238.11 80.3,237.58 79.42,238.11 79.66,237.11 78.87,236.44 79.9,236.35" fill="#1a1a1a"/>
<path d="M103.15 245.7V241.1H113.25V245.7" stroke="#262626" stroke-width="1" fill="none"/>
<polygon points="108.2,235.4 108.6,236.35 109.63,236.44 108.84,237.11 109.08,238.11 108.2,237.58 107.32,238.11 107.56,237.11 106.77,236.44 107.8,236.35" fill="#1a1a1a"/>
<path d="M158.65 245.7V241.1H168.75V245.7" stroke="#262626" stroke-width="1" fill="none"/>
<text x="163.7" y="236.6" font-size="7.06" text-anchor="middle" font-style="italic" textLength="7.3" lengthAdjust="spacingAndGlyphs">ns</text>
<path d="M186.75 245.7V241.1H196.85V245.7" stroke="#262626" stroke-width="1" fill="none"/>
<text x="191.8" y="236.6" font-size="7.06" text-anchor="middle" font-style="italic" textLength="7.3" lengthAdjust="spacingAndGlyphs">ns</text>
<path d="M214.85 245.7V241.1H224.95V245.7" stroke="#262626" stroke-width="1" fill="none"/>
<text x="219.9" y="236.6" font-size="7.06" text-anchor="middle" font-style="italic" textLength="7.3" lengthAdjust="spacingAndGlyphs">ns</text>
<rect x="127" y="255.4" width="17.9" height="64.1" fill="#c5d6e3"/>
<text x="138.35" y="287.15" font-size="8.56" text-anchor="middle" textLength="59" lengthAdjust="spacingAndGlyphs" transform="rotate(-90 138.35 287.15)">50000 donor cell</text>
<text x="14.5" y="289.6" font-size="9.2" text-anchor="middle" textLength="78.6" lengthAdjust="spacingAndGlyphs" transform="rotate(-90 14.5 289.6)">Donor (CD45.2) % in PB</text>
<rect x="43.8" y="322.8" width="7.1" height="13.8" fill="#e1889b"/>
<rect x="54.1" y="300.4" width="7.1" height="36.2" fill="#87a8c6"/>
<rect x="71.6" y="310.8" width="7.1" height="25.8" fill="#e1889b"/>
<rect x="81.9" y="277" width="7.1" height="59.6" fill="#87a8c6"/>
<rect x="99.5" y="305.1" width="7.1" height="31.5" fill="#e1889b"/>
<rect x="109.8" y="276.2" width="7.1" height="60.4" fill="#87a8c6"/>
<rect x="155" y="279.2" width="7.1" height="57.4" fill="#e1889b"/>
<rect x="165.3" y="280.8" width="7.1" height="55.8" fill="#87a8c6"/>
<rect x="183.1" y="257.7" width="7.1" height="78.9" fill="#e1889b"/>
<rect x="193.4" y="265.1" width="7.1" height="71.5" fill="#87a8c6"/>
<rect x="211.2" y="264.2" width="7.1" height="72.4" fill="#e1889b"/>
<rect x="221.5" y="275.7" width="7.1" height="60.9" fill="#87a8c6"/>
<line x1="47.35" y1="317.7" x2="47.35" y2="325.3" stroke="#1a1a1a" stroke-width="1"/>
<line x1="44.95" y1="317.7" x2="49.75" y2="317.7" stroke="#1a1a1a" stroke-width="1"/>
<line x1="44.95" y1="325.3" x2="49.75" y2="325.3" stroke="#1a1a1a" stroke-width="1"/>
<line x1="57.65" y1="297" x2="57.65" y2="306.3" stroke="#1a1a1a" stroke-width="1"/>
<line x1="55.25" y1="297" x2="60.05" y2="297" stroke="#1a1a1a" stroke-width="1"/>
<line x1="55.25" y1="306.3" x2="60.05" y2="306.3" stroke="#1a1a1a" stroke-width="1"/>
<circle cx="46" cy="314.8" r="1.7" fill="#c8102e"/>
<circle cx="49.5" cy="314" r="1.7" fill="#c8102e"/>
<circle cx="46" cy="321.5" r="1.7" fill="#c8102e"/>
<circle cx="49" cy="321.5" r="1.7" fill="#c8102e"/>
<circle cx="47.5" cy="333.3" r="1.7" fill="#c8102e"/>
<rect x="55.8" y="287.1" width="3.4" height="3.4" fill="#114a8a"/>
<rect x="55.8" y="292.8" width="3.4" height="3.4" fill="#114a8a"/>
<rect x="55.8" y="294.3" width="3.4" height="3.4" fill="#114a8a"/>
<rect x="55.8" y="300.8" width="3.4" height="3.4" fill="#114a8a"/>
<rect x="55.8" y="319.8" width="3.4" height="3.4" fill="#114a8a"/>
<line x1="75.15" y1="301.3" x2="75.15" y2="319.5" stroke="#1a1a1a" stroke-width="1"/>
<line x1="72.75" y1="301.3" x2="77.55" y2="301.3" stroke="#1a1a1a" stroke-width="1"/>
<line x1="72.75" y1="319.5" x2="77.55" y2="319.5" stroke="#1a1a1a" stroke-width="1"/>
<line x1="85.45" y1="268.2" x2="85.45" y2="285.5" stroke="#1a1a1a" stroke-width="1"/>
<line x1="83.05" y1="268.2" x2="87.85" y2="268.2" stroke="#1a1a1a" stroke-width="1"/>
<line x1="83.05" y1="285.5" x2="87.85" y2="285.5" stroke="#1a1a1a" stroke-width="1"/>
<circle cx="72.5" cy="291" r="1.7" fill="#c8102e"/>
<circle cx="76.5" cy="289.5" r="1.7" fill="#c8102e"/>
<circle cx="73.5" cy="318.5" r="1.7" fill="#c8102e"/>
<circle cx="77" cy="318.5" r="1.7" fill="#c8102e"/>
<circle cx="75" cy="335.5" r="1.7" fill="#c8102e"/>
<rect x="82.3" y="255.3" width="3.4" height="3.4" fill="#114a8a"/>
<rect x="86.3" y="252.8" width="3.4" height="3.4" fill="#114a8a"/>
<rect x="83.8" y="283.3" width="3.4" height="3.4" fill="#114a8a"/>
<rect x="83.8" y="289.8" width="3.4" height="3.4" fill="#114a8a"/>
<rect x="83.8" y="296.8" width="3.4" height="3.4" fill="#114a8a"/>
<line x1="103.05" y1="301.1" x2="103.05" y2="310.3" stroke="#1a1a1a" stroke-width="1"/>
<line x1="100.65" y1="301.1" x2="105.45" y2="301.1" stroke="#1a1a1a" stroke-width="1"/>
<line x1="100.65" y1="310.3" x2="105.45" y2="310.3" stroke="#1a1a1a" stroke-width="1"/>
<line x1="113.35" y1="270" x2="113.35" y2="282" stroke="#1a1a1a" stroke-width="1"/>
<line x1="110.95" y1="270" x2="115.75" y2="270" stroke="#1a1a1a" stroke-width="1"/>
<line x1="110.95" y1="282" x2="115.75" y2="282" stroke="#1a1a1a" stroke-width="1"/>
<circle cx="101" cy="301" r="1.7" fill="#c8102e"/>
<circle cx="104" cy="297.5" r="1.7" fill="#c8102e"/>
<circle cx="105" cy="300.5" r="1.7" fill="#c8102e"/>
<circle cx="103" cy="327.5" r="1.7" fill="#c8102e"/>
<rect x="111.8" y="250.3" width="3.4" height="3.4" fill="#114a8a"/>
<rect x="110.3" y="275.3" width="3.4" height="3.4" fill="#114a8a"/>
<rect x="114.3" y="275.3" width="3.4" height="3.4" fill="#114a8a"/>
<rect x="111.8" y="282.3" width="3.4" height="3.4" fill="#114a8a"/>
<rect x="111.8" y="289.3" width="3.4" height="3.4" fill="#114a8a"/>
<line x1="158.55" y1="274.3" x2="158.55" y2="284.2" stroke="#1a1a1a" stroke-width="1"/>
<line x1="156.15" y1="274.3" x2="160.95" y2="274.3" stroke="#1a1a1a" stroke-width="1"/>
<line x1="156.15" y1="284.2" x2="160.95" y2="284.2" stroke="#1a1a1a" stroke-width="1"/>
<line x1="168.85" y1="276.6" x2="168.85" y2="284.2" stroke="#1a1a1a" stroke-width="1"/>
<line x1="166.45" y1="276.6" x2="171.25" y2="276.6" stroke="#1a1a1a" stroke-width="1"/>
<line x1="166.45" y1="284.2" x2="171.25" y2="284.2" stroke="#1a1a1a" stroke-width="1"/>
<circle cx="158.5" cy="265.8" r="1.7" fill="#c8102e"/>
<circle cx="156" cy="274.5" r="1.7" fill="#c8102e"/>
<circle cx="160" cy="272" r="1.7" fill="#c8102e"/>
<circle cx="157" cy="292" r="1.7" fill="#c8102e"/>
<circle cx="160" cy="289.5" r="1.7" fill="#c8102e"/>
<rect x="166.8" y="267.9" width="3.4" height="3.4" fill="#114a8a"/>
<rect x="165.3" y="277.3" width="3.4" height="3.4" fill="#114a8a"/>
<rect x="169.3" y="277.3" width="3.4" height="3.4" fill="#114a8a"/>
<rect x="167.3" y="283.3" width="3.4" height="3.4" fill="#114a8a"/>
<rect x="167.3" y="290.8" width="3.4" height="3.4" fill="#114a8a"/>
<line x1="186.65" y1="254.5" x2="186.65" y2="261.2" stroke="#1a1a1a" stroke-width="1"/>
<line x1="184.25" y1="254.5" x2="189.05" y2="254.5" stroke="#1a1a1a" stroke-width="1"/>
<line x1="184.25" y1="261.2" x2="189.05" y2="261.2" stroke="#1a1a1a" stroke-width="1"/>
<line x1="196.95" y1="260.5" x2="196.95" y2="270.4" stroke="#1a1a1a" stroke-width="1"/>
<line x1="194.55" y1="260.5" x2="199.35" y2="260.5" stroke="#1a1a1a" stroke-width="1"/>
<line x1="194.55" y1="270.4" x2="199.35" y2="270.4" stroke="#1a1a1a" stroke-width="1"/>
<circle cx="184.5" cy="252.5" r="1.7" fill="#c8102e"/>
<circle cx="188.5" cy="252" r="1.7" fill="#c8102e"/>
<circle cx="186.5" cy="259" r="1.7" fill="#c8102e"/>
<circle cx="186.5" cy="269" r="1.7" fill="#c8102e"/>
<rect x="192.8" y="256.3" width="3.4" height="3.4" fill="#114a8a"/>
<rect x="197.8" y="256.3" width="3.4" height="3.4" fill="#114a8a"/>
<rect x="195.3" y="260.8" width="3.4" height="3.4" fill="#114a8a"/>
<rect x="195.3" y="281.3" width="3.4" height="3.4" fill="#114a8a"/>
<line x1="214.75" y1="259.5" x2="214.75" y2="270.4" stroke="#1a1a1a" stroke-width="1"/>
<line x1="212.35" y1="259.5" x2="217.15" y2="259.5" stroke="#1a1a1a" stroke-width="1"/>
<line x1="212.35" y1="270.4" x2="217.15" y2="270.4" stroke="#1a1a1a" stroke-width="1"/>
<line x1="225.05" y1="271.5" x2="225.05" y2="279.2" stroke="#1a1a1a" stroke-width="1"/>
<line x1="222.65" y1="271.5" x2="227.45" y2="271.5" stroke="#1a1a1a" stroke-width="1"/>
<line x1="222.65" y1="279.2" x2="227.45" y2="279.2" stroke="#1a1a1a" stroke-width="1"/>
<circle cx="213.5" cy="251" r="1.7" fill="#c8102e"/>
<circle cx="213.5" cy="256.5" r="1.7" fill="#c8102e"/>
<circle cx="212" cy="268" r="1.7" fill="#c8102e"/>
<circle cx="216" cy="268" r="1.7" fill="#c8102e"/>
<circle cx="213.5" cy="280" r="1.7" fill="#c8102e"/>
<rect x="222.8" y="260.8" width="3.4" height="3.4" fill="#114a8a"/>
<rect x="221.3" y="273.8" width="3.4" height="3.4" fill="#114a8a"/>
<rect x="224.8" y="273.8" width="3.4" height="3.4" fill="#114a8a"/>
<rect x="222.3" y="279.3" width="3.4" height="3.4" fill="#114a8a"/>
<rect x="224.3" y="280.3" width="3.4" height="3.4" fill="#114a8a"/>
<circle cx="245.2" cy="28.6" r="1.7" fill="#c8102e"/>
<text x="250" y="31.2" font-size="8.03" textLength="9.6" lengthAdjust="spacingAndGlyphs">Air</text>
<rect x="243.6" y="36.3" width="3.2" height="3.2" fill="#114a8a"/>
<text x="250" y="40.2" font-size="8.03" textLength="30.8" lengthAdjust="spacingAndGlyphs">Physioxia</text>
<text x="357.8" y="199.8" font-size="8.13" text-anchor="middle" textLength="11.6" lengthAdjust="spacingAndGlyphs">WT</text>
<line x1="321.5" y1="203.4" x2="394.2" y2="203.4" stroke="#555" stroke-width="1.1"/>
<text x="455.5" y="200.2" font-size="8.77" font-style="italic">Tet2<tspan font-size="5.79" dy="-3.16">&#8211;/&#8211;</tspan></text>
<line x1="430.8" y1="203.2" x2="506.1" y2="203.2" stroke="#555" stroke-width="1.1"/>
<path d="M394.6 221.2V216.4H506.1V221.2" stroke="#262626" stroke-width="1" fill="none"/>
<text x="450.2" y="213.4" font-size="7.81" text-anchor="middle" font-style="italic" textLength="8" lengthAdjust="spacingAndGlyphs">ns</text>
<path d="M386.5 236.4V231.7H497.6V236.4" stroke="#262626" stroke-width="1" fill="none"/>
<polygon points="436.63,226 437.04,226.99 438.1,227.07 437.29,227.77 437.54,228.8 436.63,228.25 435.72,228.8 435.97,227.77 435.16,227.07 436.22,226.99" fill="#1a1a1a"/>
<polygon points="440.21,226 440.62,226.99 441.68,227.07 440.87,227.77 441.12,228.8 440.21,228.25 439.3,228.8 439.55,227.77 438.74,227.07 439.8,226.99" fill="#1a1a1a"/>
<polygon points="443.79,226 444.2,226.99 445.26,227.07 444.45,227.77 444.7,228.8 443.79,228.25 442.88,228.8 443.13,227.77 442.32,227.07 443.38,226.99" fill="#1a1a1a"/>
<polygon points="447.37,226 447.78,226.99 448.84,227.07 448.03,227.77 448.28,228.8 447.37,228.25 446.46,228.8 446.71,227.77 445.9,227.07 446.96,226.99" fill="#1a1a1a"/>
<line x1="321.1" y1="240.4" x2="321.1" y2="334.8" stroke="#1a1a1a" stroke-width="1"/>
<line x1="317.8" y1="334.8" x2="321.1" y2="334.8" stroke="#1a1a1a" stroke-width="1"/>
<text x="314.4" y="337.55" font-size="8.13" text-anchor="end" textLength="4.07" lengthAdjust="spacingAndGlyphs">0</text>
<line x1="317.8" y1="316.62" x2="321.1" y2="316.62" stroke="#1a1a1a" stroke-width="1"/>
<text x="314.4" y="319.37" font-size="8.13" text-anchor="end" textLength="8.14" lengthAdjust="spacingAndGlyphs">20</text>
<line x1="317.8" y1="298.44" x2="321.1" y2="298.44" stroke="#1a1a1a" stroke-width="1"/>
<text x="314.4" y="301.19" font-size="8.13" text-anchor="end" textLength="8.14" lengthAdjust="spacingAndGlyphs">40</text>
<line x1="317.8" y1="280.26" x2="321.1" y2="280.26" stroke="#1a1a1a" stroke-width="1"/>
<text x="314.4" y="283.01" font-size="8.13" text-anchor="end" textLength="8.14" lengthAdjust="spacingAndGlyphs">60</text>
<line x1="317.8" y1="262.08" x2="321.1" y2="262.08" stroke="#1a1a1a" stroke-width="1"/>
<text x="314.4" y="264.83" font-size="8.13" text-anchor="end" textLength="8.14" lengthAdjust="spacingAndGlyphs">80</text>
<line x1="317.8" y1="243.9" x2="321.1" y2="243.9" stroke="#1a1a1a" stroke-width="1"/>
<text x="314.4" y="246.65" font-size="8.13" text-anchor="end" textLength="12.21" lengthAdjust="spacingAndGlyphs">100</text>
<line x1="321.1" y1="334.8" x2="513.5" y2="334.8" stroke="#1a1a1a" stroke-width="1"/>
<line x1="333.4" y1="334.8" x2="333.4" y2="337.4" stroke="#1a1a1a" stroke-width="1"/>
<line x1="361.6" y1="334.8" x2="361.6" y2="337.4" stroke="#1a1a1a" stroke-width="1"/>
<line x1="389.5" y1="334.8" x2="389.5" y2="337.4" stroke="#1a1a1a" stroke-width="1"/>
<line x1="444.6" y1="334.8" x2="444.6" y2="337.4" stroke="#1a1a1a" stroke-width="1"/>
<line x1="472.8" y1="334.8" x2="472.8" y2="337.4" stroke="#1a1a1a" stroke-width="1"/>
<line x1="500.5" y1="334.8" x2="500.5" y2="337.4" stroke="#1a1a1a" stroke-width="1"/>
<text x="333.7" y="347.6" font-size="8.67" text-anchor="middle" textLength="15.18" lengthAdjust="spacingAndGlyphs">12.5</text>
<text x="361.6" y="347.6" font-size="8.67" text-anchor="middle" textLength="8.68" lengthAdjust="spacingAndGlyphs">25</text>
<text x="389.5" y="347.6" font-size="8.67" text-anchor="middle" textLength="8.68" lengthAdjust="spacingAndGlyphs">50</text>
<text x="444.9" y="347.6" font-size="8.67" text-anchor="middle" textLength="15.18" lengthAdjust="spacingAndGlyphs">12.5</text>
<text x="472.8" y="347.6" font-size="8.67" text-anchor="middle" textLength="8.68" lengthAdjust="spacingAndGlyphs">25</text>
<text x="500.5" y="347.6" font-size="8.67" text-anchor="middle" textLength="8.68" lengthAdjust="spacingAndGlyphs">50</text>
<line x1="326" y1="349.9" x2="508" y2="349.9" stroke="#333" stroke-width="0.9"/>
<text x="416.7" y="363.9" font-size="9.2" text-anchor="middle" textLength="76" lengthAdjust="spacingAndGlyphs">Donor cell dose &#215;1000</text>
<path d="M328.35 254.9V250.3H338.45V254.9" stroke="#262626" stroke-width="1" fill="none"/>
<polygon points="333.4,244.6 333.81,245.59 334.87,245.67 334.06,246.37 334.31,247.4 333.4,246.85 332.49,247.4 332.74,246.37 331.93,245.67 332.99,245.59" fill="#1a1a1a"/>
<path d="M356.55 254.9V250.3H366.65V254.9" stroke="#262626" stroke-width="1" fill="none"/>
<text x="361.6" y="246.6" font-size="7.06" text-anchor="middle" font-style="italic" textLength="7.3" lengthAdjust="spacingAndGlyphs">ns</text>
<path d="M384.45 254.9V250.3H394.55V254.9" stroke="#262626" stroke-width="1" fill="none"/>
<text x="389.5" y="246.6" font-size="7.06" text-anchor="middle" font-style="italic" textLength="7.3" lengthAdjust="spacingAndGlyphs">ns</text>
<path d="M439.55 254.9V250.3H449.65V254.9" stroke="#262626" stroke-width="1" fill="none"/>
<text x="444.6" y="246.6" font-size="7.06" text-anchor="middle" font-style="italic" textLength="7.3" lengthAdjust="spacingAndGlyphs">ns</text>
<path d="M467.75 254.9V250.3H477.85V254.9" stroke="#262626" stroke-width="1" fill="none"/>
<text x="472.8" y="246.6" font-size="7.06" text-anchor="middle" font-style="italic" textLength="7.3" lengthAdjust="spacingAndGlyphs">ns</text>
<path d="M495.45 254.9V250.3H505.55V254.9" stroke="#262626" stroke-width="1" fill="none"/>
<text x="500.5" y="246.6" font-size="7.06" text-anchor="middle" font-style="italic" textLength="7.3" lengthAdjust="spacingAndGlyphs">ns</text>
<text x="295.8" y="287.1" font-size="9.2" text-anchor="middle" textLength="81.8" lengthAdjust="spacingAndGlyphs" transform="rotate(-90 295.8 287.1)">Donor (CD45.2) % in BM</text>
<rect x="324.7" y="322.3" width="7.1" height="12.5" fill="#e1889b"/>
<rect x="335" y="291.2" width="7.1" height="43.6" fill="#87a8c6"/>
<rect x="352.9" y="307.7" width="7.1" height="27.1" fill="#e1889b"/>
<rect x="363.2" y="283.1" width="7.1" height="51.7" fill="#87a8c6"/>
<rect x="380.8" y="286.6" width="7.1" height="48.2" fill="#e1889b"/>
<rect x="391.1" y="281.2" width="7.1" height="53.6" fill="#87a8c6"/>
<rect x="435.9" y="275.2" width="7.1" height="59.6" fill="#e1889b"/>
<rect x="446.2" y="274" width="7.1" height="60.8" fill="#87a8c6"/>
<rect x="464.1" y="289.1" width="7.1" height="45.7" fill="#e1889b"/>
<rect x="474.4" y="290.1" width="7.1" height="44.7" fill="#87a8c6"/>
<rect x="491.8" y="273.3" width="7.1" height="61.5" fill="#e1889b"/>
<rect x="502.1" y="278.3" width="7.1" height="56.5" fill="#87a8c6"/>
<line x1="328.25" y1="315.8" x2="328.25" y2="327.4" stroke="#1a1a1a" stroke-width="1"/>
<line x1="325.85" y1="315.8" x2="330.65" y2="315.8" stroke="#1a1a1a" stroke-width="1"/>
<line x1="325.85" y1="327.4" x2="330.65" y2="327.4" stroke="#1a1a1a" stroke-width="1"/>
<line x1="338.55" y1="288.2" x2="338.55" y2="295.4" stroke="#1a1a1a" stroke-width="1"/>
<line x1="336.15" y1="288.2" x2="340.95" y2="288.2" stroke="#1a1a1a" stroke-width="1"/>
<line x1="336.15" y1="295.4" x2="340.95" y2="295.4" stroke="#1a1a1a" stroke-width="1"/>
<circle cx="328.5" cy="299.7" r="1.7" fill="#c8102e"/>
<circle cx="328.5" cy="320.8" r="1.7" fill="#c8102e"/>
<circle cx="328" cy="325.5" r="1.7" fill="#c8102e"/>
<circle cx="330.5" cy="330" r="1.7" fill="#c8102e"/>
<circle cx="326.5" cy="332.8" r="1.7" fill="#c8102e"/>
<rect x="337.1" y="278.8" width="3.4" height="3.4" fill="#114a8a"/>
<rect x="336.8" y="283.7" width="3.4" height="3.4" fill="#114a8a"/>
<rect x="337.1" y="288.3" width="3.4" height="3.4" fill="#114a8a"/>
<rect x="335.2" y="298.8" width="3.4" height="3.4" fill="#114a8a"/>
<rect x="339.1" y="297.5" width="3.4" height="3.4" fill="#114a8a"/>
<line x1="356.45" y1="302.8" x2="356.45" y2="313.1" stroke="#1a1a1a" stroke-width="1"/>
<line x1="354.05" y1="302.8" x2="358.85" y2="302.8" stroke="#1a1a1a" stroke-width="1"/>
<line x1="354.05" y1="313.1" x2="358.85" y2="313.1" stroke="#1a1a1a" stroke-width="1"/>
<line x1="366.75" y1="280.5" x2="366.75" y2="285.4" stroke="#1a1a1a" stroke-width="1"/>
<line x1="364.35" y1="280.5" x2="369.15" y2="280.5" stroke="#1a1a1a" stroke-width="1"/>
<line x1="364.35" y1="285.4" x2="369.15" y2="285.4" stroke="#1a1a1a" stroke-width="1"/>
<circle cx="353.8" cy="302" r="1.7" fill="#c8102e"/>
<circle cx="356.2" cy="299.5" r="1.7" fill="#c8102e"/>
<circle cx="358.5" cy="301.8" r="1.7" fill="#c8102e"/>
<circle cx="356.2" cy="306.2" r="1.7" fill="#c8102e"/>
<circle cx="355.8" cy="328.9" r="1.7" fill="#c8102e"/>
<rect x="362.9" y="276" width="3.4" height="3.4" fill="#114a8a"/>
<rect x="367.2" y="275.2" width="3.4" height="3.4" fill="#114a8a"/>
<rect x="364.9" y="280.6" width="3.4" height="3.4" fill="#114a8a"/>
<rect x="362.9" y="286.8" width="3.4" height="3.4" fill="#114a8a"/>
<rect x="367.2" y="286.8" width="3.4" height="3.4" fill="#114a8a"/>
<line x1="384.35" y1="282" x2="384.35" y2="292.3" stroke="#1a1a1a" stroke-width="1"/>
<line x1="381.95" y1="282" x2="386.75" y2="282" stroke="#1a1a1a" stroke-width="1"/>
<line x1="381.95" y1="292.3" x2="386.75" y2="292.3" stroke="#1a1a1a" stroke-width="1"/>
<line x1="394.65" y1="277.7" x2="394.65" y2="280.8" stroke="#1a1a1a" stroke-width="1"/>
<line x1="392.25" y1="277.7" x2="397.05" y2="277.7" stroke="#1a1a1a" stroke-width="1"/>
<line x1="392.25" y1="280.8" x2="397.05" y2="280.8" stroke="#1a1a1a" stroke-width="1"/>
<circle cx="383.8" cy="278.5" r="1.7" fill="#c8102e"/>
<circle cx="381.8" cy="282.8" r="1.7" fill="#c8102e"/>
<circle cx="386.2" cy="281.1" r="1.7" fill="#c8102e"/>
<circle cx="383.8" cy="308.8" r="1.7" fill="#c8102e"/>
<rect x="392.9" y="273.7" width="3.4" height="3.4" fill="#114a8a"/>
<rect x="390.6" y="280.3" width="3.4" height="3.4" fill="#114a8a"/>
<rect x="394.8" y="279.8" width="3.4" height="3.4" fill="#114a8a"/>
<rect x="392.9" y="277.8" width="3.4" height="3.4" fill="#114a8a"/>
<line x1="439.45" y1="271.5" x2="439.45" y2="277.8" stroke="#1a1a1a" stroke-width="1"/>
<line x1="437.05" y1="271.5" x2="441.85" y2="271.5" stroke="#1a1a1a" stroke-width="1"/>
<line x1="437.05" y1="277.8" x2="441.85" y2="277.8" stroke="#1a1a1a" stroke-width="1"/>
<line x1="449.75" y1="272.3" x2="449.75" y2="274.9" stroke="#1a1a1a" stroke-width="1"/>
<line x1="447.35" y1="272.3" x2="452.15" y2="272.3" stroke="#1a1a1a" stroke-width="1"/>
<line x1="447.35" y1="274.9" x2="452.15" y2="274.9" stroke="#1a1a1a" stroke-width="1"/>
<circle cx="439.5" cy="266.7" r="1.7" fill="#c8102e"/>
<circle cx="439.5" cy="269.6" r="1.7" fill="#c8102e"/>
<circle cx="437.6" cy="275.4" r="1.7" fill="#c8102e"/>
<circle cx="441.4" cy="273" r="1.7" fill="#c8102e"/>
<circle cx="439.5" cy="286.9" r="1.7" fill="#c8102e"/>
<rect x="446" y="271.7" width="3.4" height="3.4" fill="#114a8a"/>
<rect x="448" y="270.1" width="3.4" height="3.4" fill="#114a8a"/>
<rect x="450.4" y="270.1" width="3.4" height="3.4" fill="#114a8a"/>
<rect x="448" y="276.9" width="3.4" height="3.4" fill="#114a8a"/>
<line x1="467.65" y1="278.6" x2="467.65" y2="298.6" stroke="#1a1a1a" stroke-width="1"/>
<line x1="465.25" y1="278.6" x2="470.05" y2="278.6" stroke="#1a1a1a" stroke-width="1"/>
<line x1="465.25" y1="298.6" x2="470.05" y2="298.6" stroke="#1a1a1a" stroke-width="1"/>
<line x1="477.95" y1="279.7" x2="477.95" y2="299.5" stroke="#1a1a1a" stroke-width="1"/>
<line x1="475.55" y1="279.7" x2="480.35" y2="279.7" stroke="#1a1a1a" stroke-width="1"/>
<line x1="475.55" y1="299.5" x2="480.35" y2="299.5" stroke="#1a1a1a" stroke-width="1"/>
<circle cx="467.5" cy="269.1" r="1.7" fill="#c8102e"/>
<circle cx="467.5" cy="277.3" r="1.7" fill="#c8102e"/>
<circle cx="465.5" cy="285.3" r="1.7" fill="#c8102e"/>
<circle cx="469.7" cy="285.3" r="1.7" fill="#c8102e"/>
<circle cx="467.5" cy="327" r="1.7" fill="#c8102e"/>
<rect x="476.4" y="267.4" width="3.4" height="3.4" fill="#114a8a"/>
<rect x="476.4" y="274.5" width="3.4" height="3.4" fill="#114a8a"/>
<rect x="476.4" y="281.6" width="3.4" height="3.4" fill="#114a8a"/>
<rect x="476.4" y="292.6" width="3.4" height="3.4" fill="#114a8a"/>
<rect x="476.4" y="325" width="3.4" height="3.4" fill="#114a8a"/>
<line x1="495.35" y1="270.7" x2="495.35" y2="275.5" stroke="#1a1a1a" stroke-width="1"/>
<line x1="492.95" y1="270.7" x2="497.75" y2="270.7" stroke="#1a1a1a" stroke-width="1"/>
<line x1="492.95" y1="275.5" x2="497.75" y2="275.5" stroke="#1a1a1a" stroke-width="1"/>
<line x1="505.65" y1="275.9" x2="505.65" y2="279.6" stroke="#1a1a1a" stroke-width="1"/>
<line x1="503.25" y1="275.9" x2="508.05" y2="275.9" stroke="#1a1a1a" stroke-width="1"/>
<line x1="503.25" y1="279.6" x2="508.05" y2="279.6" stroke="#1a1a1a" stroke-width="1"/>
<circle cx="495.5" cy="268" r="1.7" fill="#c8102e"/>
<circle cx="493.1" cy="273" r="1.7" fill="#c8102e"/>
<circle cx="497.8" cy="272.7" r="1.7" fill="#c8102e"/>
<circle cx="495.5" cy="278.1" r="1.7" fill="#c8102e"/>
<rect x="501.6" y="272.6" width="3.4" height="3.4" fill="#114a8a"/>
<rect x="505.9" y="271" width="3.4" height="3.4" fill="#114a8a"/>
<rect x="503.7" y="275.3" width="3.4" height="3.4" fill="#114a8a"/>
<rect x="502.1" y="281.1" width="3.4" height="3.4" fill="#114a8a"/>
<rect x="506.4" y="278.9" width="3.4" height="3.4" fill="#114a8a"/>
<text x="149.4" y="386.1" font-size="9.2" text-anchor="middle" textLength="11.5" lengthAdjust="spacingAndGlyphs">PB</text>
<line x1="42.5" y1="389.2" x2="256" y2="389.2" stroke="#444" stroke-width="1"/>
<clipPath id="clp0"><rect x="42.7" y="405" width="127.5" height="99.4"/></clipPath>
<g clip-path="url(#clp0)">
<line x1="43.8" y1="410.4" x2="169.3" y2="440.4" stroke="#22a53c" stroke-width="1.4" stroke-dasharray="2.2 1.95"/>
<line x1="43.8" y1="410.4" x2="169.3" y2="470.5" stroke="#22a53c" stroke-width="1.4"/>
<line x1="43.8" y1="410.4" x2="169.3" y2="494.8" stroke="#114a8a" stroke-width="1.4" stroke-dasharray="2.2 1.95"/>
<line x1="43.8" y1="410.4" x2="141" y2="504.4" stroke="#22a53c" stroke-width="1.4" stroke-dasharray="2.2 1.95"/>
<line x1="43.8" y1="410.4" x2="111.3" y2="504.4" stroke="#114a8a" stroke-width="1.4"/>
<line x1="43.8" y1="410.4" x2="86.3" y2="504.4" stroke="#c8102e" stroke-width="1.4"/>
<line x1="43.8" y1="410.4" x2="78.4" y2="504.4" stroke="#114a8a" stroke-width="1.4" stroke-dasharray="2.2 1.95"/>
<line x1="43.8" y1="410.4" x2="64" y2="504.4" stroke="#c8102e" stroke-width="1.4" stroke-dasharray="2.2 1.95"/>
</g>
<circle cx="75.8" cy="423.7" r="1.45" fill="#22a53c"/>
<circle cx="105.2" cy="447.9" r="1.45" fill="#22a53c"/>
<circle cx="164.4" cy="476.7" r="1.45" fill="#22a53c"/>
<path d="M75.05 468.19L77.95 468.19L76.5 470.81Z" fill="#5b2c83"/>
<path d="M75.05 470.8L77.95 470.8L76.5 473.41Z" fill="#114a8a"/>
<path d="M75.05 474L77.95 474L76.5 476.61Z" fill="#c8102e"/>
<path d="M103.75 468.3L106.65 468.3L105.2 470.91Z" fill="#114a8a"/>
<path d="M103.75 471L106.65 471L105.2 473.61Z" fill="#5b2c83"/>
<path d="M103.75 492.89L106.65 492.89L105.2 495.5Z" fill="#c8102e"/>
<path d="M162.95 494.3L165.85 494.3L164.4 496.91Z" fill="#114a8a"/>
<path d="M162.95 497.3L165.85 497.3L164.4 499.91Z" fill="#5b2c83"/>
<path d="M162.95 500.5L165.85 500.5L164.4 503.11Z" fill="#c8102e"/>
<path d="M44.05 409.69L46.95 409.69L45.5 412.31Z" fill="#5b2c83"/>
<path d="M45.85 411.5L48.75 411.5L47.3 414.11Z" fill="#c8102e"/>
<circle cx="50.7" cy="414.2" r="1.45" fill="#22a53c"/>
<line x1="42.7" y1="409.2" x2="42.7" y2="504.4" stroke="#1a1a1a" stroke-width="1"/>
<line x1="39.4" y1="413.1" x2="42.7" y2="413.1" stroke="#1a1a1a" stroke-width="1"/>
<text x="36" y="415.85" font-size="8.13" text-anchor="end" textLength="10.17" lengthAdjust="spacingAndGlyphs">0.0</text>
<line x1="39.4" y1="431.37" x2="42.7" y2="431.37" stroke="#1a1a1a" stroke-width="1"/>
<text x="36" y="434.12" font-size="8.13" text-anchor="end" textLength="14.24" lengthAdjust="spacingAndGlyphs">&#8211;0.5</text>
<line x1="39.4" y1="449.64" x2="42.7" y2="449.64" stroke="#1a1a1a" stroke-width="1"/>
<text x="36" y="452.39" font-size="8.13" text-anchor="end" textLength="14.24" lengthAdjust="spacingAndGlyphs">&#8211;1.0</text>
<line x1="39.4" y1="467.91" x2="42.7" y2="467.91" stroke="#1a1a1a" stroke-width="1"/>
<text x="36" y="470.66" font-size="8.13" text-anchor="end" textLength="14.24" lengthAdjust="spacingAndGlyphs">&#8211;1.5</text>
<line x1="39.4" y1="486.18" x2="42.7" y2="486.18" stroke="#1a1a1a" stroke-width="1"/>
<text x="36" y="488.93" font-size="8.13" text-anchor="end" textLength="14.24" lengthAdjust="spacingAndGlyphs">&#8211;2.0</text>
<line x1="39.4" y1="504.45" x2="42.7" y2="504.45" stroke="#1a1a1a" stroke-width="1"/>
<text x="36" y="507.2" font-size="8.13" text-anchor="end" textLength="14.24" lengthAdjust="spacingAndGlyphs">&#8211;2.5</text>
<line x1="42.7" y1="504.4" x2="169.3" y2="504.4" stroke="#1a1a1a" stroke-width="1"/>
<line x1="47.3" y1="504.4" x2="47.3" y2="507" stroke="#1a1a1a" stroke-width="1"/>
<line x1="70.72" y1="504.4" x2="70.72" y2="507" stroke="#1a1a1a" stroke-width="1"/>
<line x1="94.14" y1="504.4" x2="94.14" y2="507" stroke="#1a1a1a" stroke-width="1"/>
<line x1="117.56" y1="504.4" x2="117.56" y2="507" stroke="#1a1a1a" stroke-width="1"/>
<line x1="140.98" y1="504.4" x2="140.98" y2="507" stroke="#1a1a1a" stroke-width="1"/>
<line x1="164.4" y1="504.4" x2="164.4" y2="507" stroke="#1a1a1a" stroke-width="1"/>
<text x="47.3" y="516.4" font-size="8.13" text-anchor="middle" textLength="4.07" lengthAdjust="spacingAndGlyphs">0</text>
<text x="70.72" y="516.4" font-size="8.13" text-anchor="middle" textLength="8.14" lengthAdjust="spacingAndGlyphs">10</text>
<text x="94.14" y="516.4" font-size="8.13" text-anchor="middle" textLength="8.14" lengthAdjust="spacingAndGlyphs">20</text>
<text x="117.56" y="516.4" font-size="8.13" text-anchor="middle" textLength="8.14" lengthAdjust="spacingAndGlyphs">30</text>
<text x="140.98" y="516.4" font-size="8.13" text-anchor="middle" textLength="8.14" lengthAdjust="spacingAndGlyphs">40</text>
<text x="164.4" y="516.4" font-size="8.13" text-anchor="middle" textLength="8.14" lengthAdjust="spacingAndGlyphs">50</text>
<text x="106.3" y="528.9" font-size="9.1" text-anchor="middle" textLength="82.5" lengthAdjust="spacingAndGlyphs">Dose (no. of cells &#215;1000)</text>
<text x="14.8" y="456.7" font-size="9.42" text-anchor="middle" textLength="90.4" lengthAdjust="spacingAndGlyphs" transform="rotate(-90 14.8 456.7)">log fraction nonresponding</text>
<text x="410" y="386.1" font-size="9.2" text-anchor="middle" textLength="14.2" lengthAdjust="spacingAndGlyphs">BM</text>
<line x1="302.8" y1="389.2" x2="512" y2="389.2" stroke="#444" stroke-width="1"/>
<clipPath id="clp260"><rect x="303.4" y="405" width="127.5" height="99.4"/></clipPath>
<g clip-path="url(#clp260)">
<line x1="304.5" y1="410.4" x2="430" y2="452.5" stroke="#22a53c" stroke-width="1.4" stroke-dasharray="2.2 1.95"/>
<line x1="304.5" y1="410.4" x2="430" y2="490.3" stroke="#22a53c" stroke-width="1.4"/>
<line x1="304.5" y1="410.4" x2="401.2" y2="504.4" stroke="#114a8a" stroke-width="1.4" stroke-dasharray="2.2 1.95"/>
<line x1="304.5" y1="410.4" x2="378.7" y2="504.4" stroke="#22a53c" stroke-width="1.4" stroke-dasharray="2.2 1.95"/>
<line x1="304.5" y1="410.4" x2="347.6" y2="504.4" stroke="#114a8a" stroke-width="1.4"/>
<line x1="304.5" y1="410.4" x2="324.8" y2="504.4" stroke="#114a8a" stroke-width="1.4" stroke-dasharray="2.2 1.95"/>
</g>
<circle cx="337.5" cy="419" r="1.45" fill="#22a53c"/>
<circle cx="366.6" cy="442.7" r="1.45" fill="#22a53c"/>
<path d="M335.85 468.19L338.75 468.19L337.3 470.81Z" fill="#5b2c83"/>
<path d="M335.85 471.59L338.75 471.59L337.3 474.2Z" fill="#114a8a"/>
<path d="M335.85 474.5L338.75 474.5L337.3 477.11Z" fill="#c8102e"/>
<path d="M365.15 492.09L368.05 492.09L366.6 494.7Z" fill="#c8102e"/>
<path d="M365.15 493.8L368.05 493.8L366.6 496.41Z" fill="#114a8a"/>
<path d="M365.15 495.8L368.05 495.8L366.6 498.41Z" fill="#5b2c83"/>
<path d="M423.45 492.09L426.35 492.09L424.9 494.7Z" fill="#114a8a"/>
<path d="M423.45 494.69L426.35 494.69L424.9 497.31Z" fill="#22a53c"/>
<path d="M423.45 497.19L426.35 497.19L424.9 499.81Z" fill="#5b2c83"/>
<path d="M423.45 500.69L426.35 500.69L424.9 503.31Z" fill="#c8102e"/>
<path d="M305.75 409.69L308.65 409.69L307.2 412.31Z" fill="#114a8a"/>
<line x1="303.4" y1="409.2" x2="303.4" y2="504.4" stroke="#1a1a1a" stroke-width="1"/>
<line x1="300.1" y1="413.1" x2="303.4" y2="413.1" stroke="#1a1a1a" stroke-width="1"/>
<text x="296.7" y="415.85" font-size="8.13" text-anchor="end" textLength="10.17" lengthAdjust="spacingAndGlyphs">0.0</text>
<line x1="300.1" y1="431.37" x2="303.4" y2="431.37" stroke="#1a1a1a" stroke-width="1"/>
<text x="296.7" y="434.12" font-size="8.13" text-anchor="end" textLength="14.24" lengthAdjust="spacingAndGlyphs">&#8211;0.5</text>
<line x1="300.1" y1="449.64" x2="303.4" y2="449.64" stroke="#1a1a1a" stroke-width="1"/>
<text x="296.7" y="452.39" font-size="8.13" text-anchor="end" textLength="14.24" lengthAdjust="spacingAndGlyphs">&#8211;1.0</text>
<line x1="300.1" y1="467.91" x2="303.4" y2="467.91" stroke="#1a1a1a" stroke-width="1"/>
<text x="296.7" y="470.66" font-size="8.13" text-anchor="end" textLength="14.24" lengthAdjust="spacingAndGlyphs">&#8211;1.5</text>
<line x1="300.1" y1="486.18" x2="303.4" y2="486.18" stroke="#1a1a1a" stroke-width="1"/>
<text x="296.7" y="488.93" font-size="8.13" text-anchor="end" textLength="14.24" lengthAdjust="spacingAndGlyphs">&#8211;2.0</text>
<line x1="300.1" y1="504.45" x2="303.4" y2="504.45" stroke="#1a1a1a" stroke-width="1"/>
<text x="296.7" y="507.2" font-size="8.13" text-anchor="end" textLength="14.24" lengthAdjust="spacingAndGlyphs">&#8211;2.5</text>
<line x1="303.4" y1="504.4" x2="430" y2="504.4" stroke="#1a1a1a" stroke-width="1"/>
<line x1="308" y1="504.4" x2="308" y2="507" stroke="#1a1a1a" stroke-width="1"/>
<line x1="331.42" y1="504.4" x2="331.42" y2="507" stroke="#1a1a1a" stroke-width="1"/>
<line x1="354.84" y1="504.4" x2="354.84" y2="507" stroke="#1a1a1a" stroke-width="1"/>
<line x1="378.26" y1="504.4" x2="378.26" y2="507" stroke="#1a1a1a" stroke-width="1"/>
<line x1="401.68" y1="504.4" x2="401.68" y2="507" stroke="#1a1a1a" stroke-width="1"/>
<line x1="425.1" y1="504.4" x2="425.1" y2="507" stroke="#1a1a1a" stroke-width="1"/>
<text x="308" y="516.4" font-size="8.13" text-anchor="middle" textLength="4.07" lengthAdjust="spacingAndGlyphs">0</text>
<text x="331.42" y="516.4" font-size="8.13" text-anchor="middle" textLength="8.14" lengthAdjust="spacingAndGlyphs">10</text>
<text x="354.84" y="516.4" font-size="8.13" text-anchor="middle" textLength="8.14" lengthAdjust="spacingAndGlyphs">20</text>
<text x="378.26" y="516.4" font-size="8.13" text-anchor="middle" textLength="8.14" lengthAdjust="spacingAndGlyphs">30</text>
<text x="401.68" y="516.4" font-size="8.13" text-anchor="middle" textLength="8.14" lengthAdjust="spacingAndGlyphs">40</text>
<text x="425.1" y="516.4" font-size="8.13" text-anchor="middle" textLength="8.14" lengthAdjust="spacingAndGlyphs">50</text>
<text x="367" y="528.9" font-size="9.1" text-anchor="middle" textLength="82.5" lengthAdjust="spacingAndGlyphs">Dose (no. of cells &#215;1000)</text>
<text x="275.5" y="456.7" font-size="9.42" text-anchor="middle" textLength="90.4" lengthAdjust="spacingAndGlyphs" transform="rotate(-90 275.5 456.7)">log fraction nonresponding</text>
<line x1="216.3" y1="409.6" x2="216.3" y2="504.3" stroke="#1a1a1a" stroke-width="1"/>
<line x1="213" y1="504.3" x2="216.3" y2="504.3" stroke="#1a1a1a" stroke-width="1"/>
<text x="209.6" y="507.05" font-size="8.13" text-anchor="end" textLength="4.07" lengthAdjust="spacingAndGlyphs">0</text>
<line x1="213" y1="481.52" x2="216.3" y2="481.52" stroke="#1a1a1a" stroke-width="1"/>
<text x="209.6" y="484.27" font-size="8.13" text-anchor="end" textLength="12.21" lengthAdjust="spacingAndGlyphs">100</text>
<line x1="213" y1="458.74" x2="216.3" y2="458.74" stroke="#1a1a1a" stroke-width="1"/>
<text x="209.6" y="461.49" font-size="8.13" text-anchor="end" textLength="12.21" lengthAdjust="spacingAndGlyphs">200</text>
<line x1="213" y1="435.96" x2="216.3" y2="435.96" stroke="#1a1a1a" stroke-width="1"/>
<text x="209.6" y="438.71" font-size="8.13" text-anchor="end" textLength="12.21" lengthAdjust="spacingAndGlyphs">300</text>
<line x1="213" y1="413.18" x2="216.3" y2="413.18" stroke="#1a1a1a" stroke-width="1"/>
<text x="209.6" y="415.93" font-size="8.13" text-anchor="end" textLength="12.21" lengthAdjust="spacingAndGlyphs">400</text>
<line x1="216.3" y1="504.3" x2="255.3" y2="504.3" stroke="#1a1a1a" stroke-width="1"/>
<line x1="223.7" y1="504.3" x2="223.7" y2="506.9" stroke="#1a1a1a" stroke-width="1"/>
<line x1="232.9" y1="504.3" x2="232.9" y2="506.9" stroke="#1a1a1a" stroke-width="1"/>
<line x1="242.2" y1="504.3" x2="242.2" y2="506.9" stroke="#1a1a1a" stroke-width="1"/>
<line x1="251.5" y1="504.3" x2="251.5" y2="506.9" stroke="#1a1a1a" stroke-width="1"/>
<rect x="220.2" y="490.4" width="7" height="11.16" fill="#3db54a"/>
<line x1="220.2" y1="498.15" x2="227.2" y2="498.15" stroke="#111" stroke-width="1.2"/>
<rect x="229.4" y="461.47" width="7" height="33.03" fill="#1b5294"/>
<line x1="229.4" y1="483.8" x2="236.4" y2="483.8" stroke="#111" stroke-width="1.2"/>
<rect x="238.7" y="461.47" width="7" height="33.03" fill="#5b2c83"/>
<line x1="238.7" y1="483.8" x2="245.7" y2="483.8" stroke="#111" stroke-width="1.2"/>
<rect x="248" y="424.11" width="7" height="66.29" fill="#c8102e"/>
<line x1="248" y1="470.81" x2="255" y2="470.81" stroke="#111" stroke-width="1.2"/>
<line x1="223.9" y1="455.4" x2="232.6" y2="455.4" stroke="#333" stroke-width="1"/>
<polygon points="228.25,449.6 228.73,450.74 229.96,450.84 229.02,451.65 229.31,452.86 228.25,452.21 227.19,452.86 227.48,451.65 226.54,450.84 227.77,450.74" fill="#1a1a1a"/>
<line x1="242.4" y1="420.4" x2="251.5" y2="420.4" stroke="#333" stroke-width="1"/>
<text x="246.95" y="417.2" font-size="8.13" text-anchor="middle" font-style="italic" textLength="7.8" lengthAdjust="spacingAndGlyphs">ns</text>
<text x="190.6" y="456.3" font-size="8.6" text-anchor="middle" transform="rotate(-90 190.6 456.3)" textLength="69.5" lengthAdjust="spacingAndGlyphs">No. CRU in 10<tspan font-size="5.6" dy="-3.3">6</tspan><tspan dy="3.3"> in PB</tspan></text>
<line x1="474.4" y1="409.6" x2="474.4" y2="504.3" stroke="#1a1a1a" stroke-width="1"/>
<line x1="471.1" y1="504.3" x2="474.4" y2="504.3" stroke="#1a1a1a" stroke-width="1"/>
<text x="467.7" y="507.05" font-size="8.13" text-anchor="end" textLength="4.07" lengthAdjust="spacingAndGlyphs">0</text>
<line x1="471.1" y1="481.52" x2="474.4" y2="481.52" stroke="#1a1a1a" stroke-width="1"/>
<text x="467.7" y="484.27" font-size="8.13" text-anchor="end" textLength="12.21" lengthAdjust="spacingAndGlyphs">100</text>
<line x1="471.1" y1="458.74" x2="474.4" y2="458.74" stroke="#1a1a1a" stroke-width="1"/>
<text x="467.7" y="461.49" font-size="8.13" text-anchor="end" textLength="12.21" lengthAdjust="spacingAndGlyphs">200</text>
<line x1="471.1" y1="435.96" x2="474.4" y2="435.96" stroke="#1a1a1a" stroke-width="1"/>
<text x="467.7" y="438.71" font-size="8.13" text-anchor="end" textLength="12.21" lengthAdjust="spacingAndGlyphs">300</text>
<line x1="471.1" y1="413.18" x2="474.4" y2="413.18" stroke="#1a1a1a" stroke-width="1"/>
<text x="467.7" y="415.93" font-size="8.13" text-anchor="end" textLength="12.21" lengthAdjust="spacingAndGlyphs">400</text>
<line x1="474.4" y1="504.3" x2="513.4" y2="504.3" stroke="#1a1a1a" stroke-width="1"/>
<line x1="481.8" y1="504.3" x2="481.8" y2="506.9" stroke="#1a1a1a" stroke-width="1"/>
<line x1="491" y1="504.3" x2="491" y2="506.9" stroke="#1a1a1a" stroke-width="1"/>
<line x1="500.3" y1="504.3" x2="500.3" y2="506.9" stroke="#1a1a1a" stroke-width="1"/>
<line x1="509.6" y1="504.3" x2="509.6" y2="506.9" stroke="#1a1a1a" stroke-width="1"/>
<rect x="478.3" y="486.08" width="7" height="13.9" fill="#3db54a"/>
<line x1="478.3" y1="495.19" x2="485.3" y2="495.19" stroke="#111" stroke-width="1.2"/>
<rect x="487.5" y="424.11" width="7" height="65.61" fill="#1b5294"/>
<line x1="487.5" y1="470.81" x2="494.5" y2="470.81" stroke="#111" stroke-width="1.2"/>
<rect x="496.8" y="424.11" width="7" height="65.61" fill="#5b2c83"/>
<line x1="496.8" y1="470.81" x2="503.8" y2="470.81" stroke="#111" stroke-width="1.2"/>
<rect x="506.1" y="424.11" width="7" height="65.61" fill="#c8102e"/>
<line x1="506.1" y1="470.81" x2="513.1" y2="470.81" stroke="#111" stroke-width="1.2"/>
<line x1="482.1" y1="417.5" x2="491.2" y2="417.5" stroke="#333" stroke-width="1"/>
<polygon points="486.65,411.7 487.13,412.84 488.36,412.94 487.42,413.75 487.71,414.96 486.65,414.31 485.59,414.96 485.88,413.75 484.94,412.94 486.17,412.84" fill="#1a1a1a"/>
<line x1="500.4" y1="420.1" x2="509.8" y2="420.1" stroke="#333" stroke-width="1"/>
<text x="505.1" y="416.9" font-size="8.13" text-anchor="middle" font-style="italic" textLength="7.8" lengthAdjust="spacingAndGlyphs">ns</text>
<text x="448.7" y="456.3" font-size="8.6" text-anchor="middle" transform="rotate(-90 448.7 456.3)" textLength="69.5" lengthAdjust="spacingAndGlyphs">No. CRU in 10<tspan font-size="5.6" dy="-3.3">6</tspan><tspan dy="3.3"> in BM</tspan></text>
<rect x="448.8" y="513.5" width="5.3" height="4.9" fill="#3db54a"/>
<text x="457.3" y="518.2" font-size="8.45" textLength="21.6" lengthAdjust="spacingAndGlyphs">WT air</text>
<rect x="448.8" y="524" width="5.3" height="4.9" fill="#1b5294"/>
<text x="457.3" y="528.7" font-size="8.45" textLength="43.9" lengthAdjust="spacingAndGlyphs">WT physioxia</text>
<rect x="448.8" y="534.5" width="5.3" height="4.9" fill="#5b2c83"/>
<text x="456.9" y="539.2" font-size="8.1" textLength="33.4" lengthAdjust="spacingAndGlyphs"><tspan font-style="italic">Tet2</tspan><tspan font-size="5.4" dy="-3" font-style="italic">&#8211;/&#8211;</tspan><tspan dy="3"> air</tspan></text>
<rect x="448.8" y="545" width="5.3" height="4.9" fill="#c8102e"/>
<text x="456.9" y="549.7" font-size="8.1" textLength="56.3" lengthAdjust="spacingAndGlyphs"><tspan font-style="italic">Tet2</tspan><tspan font-size="5.4" dy="-3" font-style="italic">&#8211;/&#8211;</tspan><tspan dy="3"> physioxia</tspan></text>
<line x1="41.1" y1="585.7" x2="41.1" y2="669.6" stroke="#1a1a1a" stroke-width="1"/>
<line x1="37.8" y1="669.6" x2="41.1" y2="669.6" stroke="#1a1a1a" stroke-width="1"/>
<text x="34.4" y="672.35" font-size="8.67" text-anchor="end" textLength="4.34" lengthAdjust="spacingAndGlyphs">0</text>
<line x1="37.8" y1="649.48" x2="41.1" y2="649.48" stroke="#1a1a1a" stroke-width="1"/>
<text x="34.4" y="652.23" font-size="8.67" text-anchor="end" textLength="8.68" lengthAdjust="spacingAndGlyphs">50</text>
<line x1="37.8" y1="629.35" x2="41.1" y2="629.35" stroke="#1a1a1a" stroke-width="1"/>
<text x="34.4" y="632.1" font-size="8.67" text-anchor="end" textLength="13.01" lengthAdjust="spacingAndGlyphs">100</text>
<line x1="37.8" y1="609.23" x2="41.1" y2="609.23" stroke="#1a1a1a" stroke-width="1"/>
<text x="34.4" y="611.98" font-size="8.67" text-anchor="end" textLength="13.01" lengthAdjust="spacingAndGlyphs">150</text>
<line x1="37.8" y1="589.1" x2="41.1" y2="589.1" stroke="#1a1a1a" stroke-width="1"/>
<text x="34.4" y="591.85" font-size="8.67" text-anchor="end" textLength="13.01" lengthAdjust="spacingAndGlyphs">200</text>
<rect x="50.8" y="660.34" width="15.3" height="9.26" fill="#5b2c83"/>
<rect x="50.8" y="642.23" width="15.3" height="18.11" fill="#3db54a"/>
<rect x="50.8" y="636.39" width="15.3" height="5.84" fill="#1b5294"/>
<rect x="50.8" y="618.28" width="15.3" height="18.11" fill="#c8102e"/>
<line x1="58.45" y1="614.5" x2="58.45" y2="618.5" stroke="#111" stroke-width="0.9"/>
<line x1="54.25" y1="614.5" x2="62.65" y2="614.5" stroke="#111" stroke-width="1"/>
<line x1="58.45" y1="635.2" x2="58.45" y2="638.6" stroke="#111" stroke-width="0.9"/>
<line x1="54.25" y1="635.2" x2="62.65" y2="635.2" stroke="#111" stroke-width="1"/>
<line x1="58.45" y1="659.3" x2="58.45" y2="660.5" stroke="#111" stroke-width="0.9"/>
<line x1="54.25" y1="659.3" x2="62.65" y2="659.3" stroke="#111" stroke-width="1"/>
<rect x="77" y="660.34" width="15.7" height="9.26" fill="#5b2c83"/>
<rect x="77" y="643.64" width="15.7" height="16.7" fill="#3db54a"/>
<rect x="77" y="636.6" width="15.7" height="7.04" fill="#1b5294"/>
<rect x="77" y="620.09" width="15.7" height="16.5" fill="#c8102e"/>
<line x1="84.85" y1="616.9" x2="84.85" y2="620.1" stroke="#111" stroke-width="0.9"/>
<line x1="80.65" y1="616.9" x2="89.05" y2="616.9" stroke="#111" stroke-width="1"/>
<line x1="84.85" y1="634.1" x2="84.85" y2="640.1" stroke="#111" stroke-width="0.9"/>
<line x1="80.65" y1="634.1" x2="89.05" y2="634.1" stroke="#111" stroke-width="1"/>
<line x1="80.65" y1="640.1" x2="89.05" y2="640.1" stroke="#111" stroke-width="1"/>
<line x1="84.85" y1="659.3" x2="84.85" y2="660.5" stroke="#111" stroke-width="0.9"/>
<line x1="80.65" y1="659.3" x2="89.05" y2="659.3" stroke="#111" stroke-width="1"/>
<line x1="41.1" y1="669.6" x2="96.5" y2="669.6" stroke="#1a1a1a" stroke-width="1"/>
<line x1="58.45" y1="669.6" x2="58.45" y2="672.4" stroke="#1a1a1a" stroke-width="1"/>
<line x1="84.85" y1="669.6" x2="84.85" y2="672.4" stroke="#1a1a1a" stroke-width="1"/>
<text x="58.05" y="682.1" font-size="8.77" text-anchor="middle" textLength="9.6" lengthAdjust="spacingAndGlyphs">Air</text>
<text x="84.85" y="682.1" font-size="8.77" text-anchor="middle" textLength="32.3" lengthAdjust="spacingAndGlyphs">Physioxia</text>
<text x="68.5" y="590.3" font-size="8.13" text-anchor="middle" textLength="11.6" lengthAdjust="spacingAndGlyphs">WT</text>
<text x="73.4" y="614.5" font-size="7.06" text-anchor="middle" font-style="italic" textLength="7.3" lengthAdjust="spacingAndGlyphs">ns</text>
<line x1="137.4" y1="585.7" x2="137.4" y2="669.6" stroke="#1a1a1a" stroke-width="1"/>
<line x1="134.1" y1="669.6" x2="137.4" y2="669.6" stroke="#1a1a1a" stroke-width="1"/>
<text x="130.7" y="672.35" font-size="8.67" text-anchor="end" textLength="4.34" lengthAdjust="spacingAndGlyphs">0</text>
<line x1="134.1" y1="649.48" x2="137.4" y2="649.48" stroke="#1a1a1a" stroke-width="1"/>
<text x="130.7" y="652.23" font-size="8.67" text-anchor="end" textLength="8.68" lengthAdjust="spacingAndGlyphs">50</text>
<line x1="134.1" y1="629.35" x2="137.4" y2="629.35" stroke="#1a1a1a" stroke-width="1"/>
<text x="130.7" y="632.1" font-size="8.67" text-anchor="end" textLength="13.01" lengthAdjust="spacingAndGlyphs">100</text>
<line x1="134.1" y1="609.23" x2="137.4" y2="609.23" stroke="#1a1a1a" stroke-width="1"/>
<text x="130.7" y="611.98" font-size="8.67" text-anchor="end" textLength="13.01" lengthAdjust="spacingAndGlyphs">150</text>
<line x1="134.1" y1="589.1" x2="137.4" y2="589.1" stroke="#1a1a1a" stroke-width="1"/>
<text x="130.7" y="591.85" font-size="8.67" text-anchor="end" textLength="13.01" lengthAdjust="spacingAndGlyphs">200</text>
<rect x="146" y="661.59" width="16.4" height="8.01" fill="#5b2c83"/>
<rect x="146" y="650.68" width="16.4" height="10.91" fill="#3db54a"/>
<rect x="146" y="634.78" width="16.4" height="15.9" fill="#1b5294"/>
<rect x="146" y="613.25" width="16.4" height="21.53" fill="#c8102e"/>
<line x1="154.2" y1="610.4" x2="154.2" y2="613.3" stroke="#111" stroke-width="0.9"/>
<line x1="150" y1="610.4" x2="158.4" y2="610.4" stroke="#111" stroke-width="1"/>
<line x1="154.2" y1="632" x2="154.2" y2="637.5" stroke="#111" stroke-width="0.9"/>
<line x1="150" y1="632" x2="158.4" y2="632" stroke="#111" stroke-width="1"/>
<line x1="150" y1="637.5" x2="158.4" y2="637.5" stroke="#111" stroke-width="1"/>
<line x1="154.2" y1="649.9" x2="154.2" y2="651.5" stroke="#111" stroke-width="0.9"/>
<line x1="150" y1="649.9" x2="158.4" y2="649.9" stroke="#111" stroke-width="1"/>
<line x1="154.2" y1="660.3" x2="154.2" y2="662.5" stroke="#111" stroke-width="0.9"/>
<line x1="150" y1="660.3" x2="158.4" y2="660.3" stroke="#111" stroke-width="1"/>
<rect x="172.9" y="664.21" width="15.8" height="5.39" fill="#5b2c83"/>
<rect x="172.9" y="651.49" width="15.8" height="12.72" fill="#3db54a"/>
<rect x="172.9" y="639.82" width="15.8" height="11.67" fill="#1b5294"/>
<rect x="172.9" y="620.5" width="15.8" height="19.32" fill="#c8102e"/>
<line x1="180.8" y1="619.6" x2="180.8" y2="620.5" stroke="#111" stroke-width="0.9"/>
<line x1="176.6" y1="619.6" x2="185" y2="619.6" stroke="#111" stroke-width="1"/>
<line x1="180.8" y1="639.2" x2="180.8" y2="640.5" stroke="#111" stroke-width="0.9"/>
<line x1="176.6" y1="639.2" x2="185" y2="639.2" stroke="#111" stroke-width="1"/>
<line x1="180.8" y1="651.2" x2="180.8" y2="652" stroke="#111" stroke-width="0.9"/>
<line x1="176.6" y1="651.2" x2="185" y2="651.2" stroke="#111" stroke-width="1"/>
<line x1="180.8" y1="663.7" x2="180.8" y2="664.5" stroke="#111" stroke-width="0.9"/>
<line x1="176.6" y1="663.7" x2="185" y2="663.7" stroke="#111" stroke-width="1"/>
<line x1="137.4" y1="669.6" x2="192.8" y2="669.6" stroke="#1a1a1a" stroke-width="1"/>
<line x1="154.2" y1="669.6" x2="154.2" y2="672.4" stroke="#1a1a1a" stroke-width="1"/>
<line x1="180.8" y1="669.6" x2="180.8" y2="672.4" stroke="#1a1a1a" stroke-width="1"/>
<text x="153.8" y="682.1" font-size="8.77" text-anchor="middle" textLength="9.6" lengthAdjust="spacingAndGlyphs">Air</text>
<text x="180.8" y="682.1" font-size="8.77" text-anchor="middle" textLength="32.3" lengthAdjust="spacingAndGlyphs">Physioxia</text>
<text x="151.9" y="590.2" font-size="8.77" font-style="italic">Tet2<tspan font-size="5.79" dy="-3.16">&#8211;/&#8211;</tspan></text>
<text x="169.7" y="614.5" font-size="7.06" text-anchor="middle" font-style="italic" textLength="7.3" lengthAdjust="spacingAndGlyphs">ns</text>
<text x="15" y="627.25" font-size="9.2" text-anchor="middle" textLength="82.1" lengthAdjust="spacingAndGlyphs" transform="rotate(-90 15 627.25)">Donor (CD45.2) % in BM</text>
<rect x="201.3" y="587" width="5" height="4.6" fill="#5b2c83"/>
<text x="209.6" y="592" font-size="8.77" textLength="14.2" lengthAdjust="spacingAndGlyphs">CD3</text>
<rect x="201.3" y="595.65" width="5" height="4.6" fill="#3db54a"/>
<text x="209.6" y="600.65" font-size="8.77" textLength="16.7" lengthAdjust="spacingAndGlyphs">B220</text>
<rect x="201.3" y="604.3" width="5" height="4.6" fill="#1b5294"/>
<text x="209.6" y="609.3" font-size="8.77" textLength="23.3" lengthAdjust="spacingAndGlyphs">CD11b</text>
<rect x="201.3" y="612.95" width="5" height="4.6" fill="#c8102e"/>
<text x="209.6" y="617.95" font-size="8.77" textLength="11.6" lengthAdjust="spacingAndGlyphs">Gr1</text>
<line x1="321.5" y1="585.2" x2="321.5" y2="669" stroke="#1a1a1a" stroke-width="1"/>
<line x1="318.2" y1="669" x2="321.5" y2="669" stroke="#1a1a1a" stroke-width="1"/>
<text x="314.8" y="671.75" font-size="8.13" text-anchor="end" textLength="4.07" lengthAdjust="spacingAndGlyphs">0</text>
<line x1="318.2" y1="653" x2="321.5" y2="653" stroke="#1a1a1a" stroke-width="1"/>
<text x="314.8" y="655.75" font-size="8.13" text-anchor="end" textLength="8.14" lengthAdjust="spacingAndGlyphs">20</text>
<line x1="318.2" y1="637" x2="321.5" y2="637" stroke="#1a1a1a" stroke-width="1"/>
<text x="314.8" y="639.75" font-size="8.13" text-anchor="end" textLength="8.14" lengthAdjust="spacingAndGlyphs">40</text>
<line x1="318.2" y1="621" x2="321.5" y2="621" stroke="#1a1a1a" stroke-width="1"/>
<text x="314.8" y="623.75" font-size="8.13" text-anchor="end" textLength="8.14" lengthAdjust="spacingAndGlyphs">60</text>
<line x1="318.2" y1="605" x2="321.5" y2="605" stroke="#1a1a1a" stroke-width="1"/>
<text x="314.8" y="607.75" font-size="8.13" text-anchor="end" textLength="8.14" lengthAdjust="spacingAndGlyphs">80</text>
<line x1="318.2" y1="589" x2="321.5" y2="589" stroke="#1a1a1a" stroke-width="1"/>
<text x="314.8" y="591.75" font-size="8.13" text-anchor="end" textLength="12.21" lengthAdjust="spacingAndGlyphs">100</text>
<line x1="321.5" y1="669" x2="384.8" y2="669" stroke="#1a1a1a" stroke-width="1"/>
<rect x="326" y="661.3" width="9.2" height="7.7" fill="#e1889b"/>
<rect x="338.4" y="621.2" width="9.5" height="47.8" fill="#87a8c6"/>
<rect x="358.6" y="605.9" width="9.4" height="63.1" fill="#e1889b"/>
<rect x="371.1" y="603.2" width="9.2" height="65.8" fill="#87a8c6"/>
<line x1="330.4" y1="659.3" x2="330.4" y2="663.4" stroke="#1a1a1a" stroke-width="1"/>
<line x1="328" y1="659.3" x2="332.8" y2="659.3" stroke="#1a1a1a" stroke-width="1"/>
<line x1="328" y1="663.4" x2="332.8" y2="663.4" stroke="#1a1a1a" stroke-width="1"/>
<line x1="343.1" y1="618.5" x2="343.1" y2="624" stroke="#1a1a1a" stroke-width="1"/>
<line x1="340.7" y1="618.5" x2="345.5" y2="618.5" stroke="#1a1a1a" stroke-width="1"/>
<line x1="340.7" y1="624" x2="345.5" y2="624" stroke="#1a1a1a" stroke-width="1"/>
<line x1="363.3" y1="599.4" x2="363.3" y2="611.5" stroke="#1a1a1a" stroke-width="1"/>
<line x1="360.9" y1="599.4" x2="365.7" y2="599.4" stroke="#1a1a1a" stroke-width="1"/>
<line x1="360.9" y1="611.5" x2="365.7" y2="611.5" stroke="#1a1a1a" stroke-width="1"/>
<line x1="375.7" y1="598.7" x2="375.7" y2="605.9" stroke="#1a1a1a" stroke-width="1"/>
<line x1="373.3" y1="598.7" x2="378.1" y2="598.7" stroke="#1a1a1a" stroke-width="1"/>
<line x1="373.3" y1="605.9" x2="378.1" y2="605.9" stroke="#1a1a1a" stroke-width="1"/>
<circle cx="327.4" cy="654.3" r="1.7" fill="#c8102e"/>
<circle cx="332.8" cy="652.2" r="1.7" fill="#c8102e"/>
<circle cx="330.8" cy="656.2" r="1.7" fill="#c8102e"/>
<circle cx="328.1" cy="661.3" r="1.7" fill="#c8102e"/>
<circle cx="333.5" cy="661.3" r="1.7" fill="#c8102e"/>
<circle cx="330.1" cy="663.4" r="1.7" fill="#c8102e"/>
<circle cx="327.8" cy="664.7" r="1.7" fill="#c8102e"/>
<circle cx="333.5" cy="664.7" r="1.7" fill="#c8102e"/>
<circle cx="330.5" cy="668.6" r="1.7" fill="#c8102e"/>
<rect x="338.3" y="613.3" width="3.2" height="3.2" fill="#114a8a"/>
<rect x="343.3" y="612" width="3.2" height="3.2" fill="#114a8a"/>
<rect x="337.9" y="617.3" width="3.2" height="3.2" fill="#114a8a"/>
<rect x="340.6" y="617.3" width="3.2" height="3.2" fill="#114a8a"/>
<rect x="343.3" y="616.7" width="3.2" height="3.2" fill="#114a8a"/>
<rect x="341.5" y="620.7" width="3.2" height="3.2" fill="#114a8a"/>
<rect x="341.5" y="624.1" width="3.2" height="3.2" fill="#114a8a"/>
<rect x="341.5" y="627.4" width="3.2" height="3.2" fill="#114a8a"/>
<circle cx="363.1" cy="594" r="1.7" fill="#c8102e"/>
<circle cx="360.1" cy="596.7" r="1.7" fill="#c8102e"/>
<circle cx="365.8" cy="596.7" r="1.7" fill="#c8102e"/>
<circle cx="360.1" cy="599.4" r="1.7" fill="#c8102e"/>
<circle cx="365.8" cy="599.2" r="1.7" fill="#c8102e"/>
<circle cx="360.4" cy="601.8" r="1.7" fill="#c8102e"/>
<circle cx="363.1" cy="667.8" r="1.7" fill="#c8102e"/>
<rect x="373.6" y="590.4" width="3.2" height="3.2" fill="#114a8a"/>
<rect x="371.6" y="593.1" width="3.2" height="3.2" fill="#114a8a"/>
<rect x="377.6" y="593.8" width="3.2" height="3.2" fill="#114a8a"/>
<rect x="374.9" y="594.4" width="3.2" height="3.2" fill="#114a8a"/>
<rect x="372" y="596.7" width="3.2" height="3.2" fill="#114a8a"/>
<rect x="376.9" y="596.7" width="3.2" height="3.2" fill="#114a8a"/>
<rect x="373.6" y="601.2" width="3.2" height="3.2" fill="#114a8a"/>
<rect x="373.6" y="608.6" width="3.2" height="3.2" fill="#114a8a"/>
<rect x="373.6" y="612.6" width="3.2" height="3.2" fill="#114a8a"/>
<rect x="373.9" y="625" width="3.2" height="3.2" fill="#114a8a"/>
<line x1="330.5" y1="567.4" x2="362.8" y2="567.4" stroke="#333" stroke-width="1"/>
<polygon points="341.05,562.25 341.46,563.24 342.52,563.32 341.71,564.02 341.96,565.05 341.05,564.5 340.14,565.05 340.39,564.02 339.58,563.32 340.64,563.24" fill="#1a1a1a"/>
<polygon points="344.75,562.25 345.16,563.24 346.22,563.32 345.41,564.02 345.66,565.05 344.75,564.5 343.84,565.05 344.09,564.02 343.28,563.32 344.34,563.24" fill="#1a1a1a"/>
<polygon points="348.45,562.25 348.86,563.24 349.92,563.32 349.11,564.02 349.36,565.05 348.45,564.5 347.54,565.05 347.79,564.02 346.98,563.32 348.04,563.24" fill="#1a1a1a"/>
<polygon points="352.15,562.25 352.56,563.24 353.62,563.32 352.81,564.02 353.06,565.05 352.15,564.5 351.24,565.05 351.49,564.02 350.68,563.32 351.74,563.24" fill="#1a1a1a"/>
<line x1="342.9" y1="576.2" x2="375.2" y2="576.2" stroke="#333" stroke-width="1"/>
<polygon points="359,570.8 359.42,571.82 360.52,571.91 359.68,572.62 359.94,573.69 359,573.12 358.06,573.69 358.32,572.62 357.48,571.91 358.58,571.82" fill="#1a1a1a"/>
<line x1="343.5" y1="589.5" x2="362.5" y2="589.5" stroke="#333" stroke-width="1"/>
<text x="353" y="586.6" font-size="8.13" text-anchor="middle" font-style="italic" textLength="7.8" lengthAdjust="spacingAndGlyphs">ns</text>
<line x1="362.8" y1="586.3" x2="381.5" y2="586.3" stroke="#333" stroke-width="1"/>
<text x="372.1" y="583.4" font-size="8.13" text-anchor="middle" font-style="italic" textLength="7.8" lengthAdjust="spacingAndGlyphs">ns</text>
<line x1="329.9" y1="608.1" x2="343.3" y2="608.1" stroke="#333" stroke-width="1"/>
<polygon points="331.05,603.05 331.46,604.04 332.52,604.12 331.71,604.82 331.96,605.85 331.05,605.3 330.14,605.85 330.39,604.82 329.58,604.12 330.64,604.04" fill="#1a1a1a"/>
<polygon points="334.75,603.05 335.16,604.04 336.22,604.12 335.41,604.82 335.66,605.85 334.75,605.3 333.84,605.85 334.09,604.82 333.28,604.12 334.34,604.04" fill="#1a1a1a"/>
<polygon points="338.45,603.05 338.86,604.04 339.92,604.12 339.11,604.82 339.36,605.85 338.45,605.3 337.54,605.85 337.79,604.82 336.98,604.12 338.04,604.04" fill="#1a1a1a"/>
<polygon points="342.15,603.05 342.56,604.04 343.62,604.12 342.81,604.82 343.06,605.85 342.15,605.3 341.24,605.85 341.49,604.82 340.68,604.12 341.74,604.04" fill="#1a1a1a"/>
<text x="335.8" y="558.8" font-size="8.35" text-anchor="middle" textLength="11.6" lengthAdjust="spacingAndGlyphs">WT</text>
<text x="357.1" y="558.8" font-size="8.77" font-style="italic">Tet2<tspan font-size="5.79" dy="-3.16">&#8211;/&#8211;</tspan></text>
<text x="285" y="627.45" font-size="9.2" text-anchor="middle" textLength="69.3" lengthAdjust="spacingAndGlyphs" transform="rotate(-90 285 627.45)">Donor (CD45.2) % in</text>
<text x="296.3" y="628.05" font-size="9.2" text-anchor="middle" textLength="36.7" lengthAdjust="spacingAndGlyphs" transform="rotate(-90 296.3 628.05)">2o recipient</text>
<circle cx="395.4" cy="589.2" r="1.7" fill="#c8102e"/>
<text x="400.5" y="591.5" font-size="8.13" textLength="9.3" lengthAdjust="spacingAndGlyphs">Air</text>
<rect x="393.8" y="596.9" width="3.2" height="3.2" fill="#114a8a"/>
<text x="400.5" y="600.6" font-size="8.13" textLength="30.3" lengthAdjust="spacingAndGlyphs">Physioxia</text>
</svg>
</body></html>
